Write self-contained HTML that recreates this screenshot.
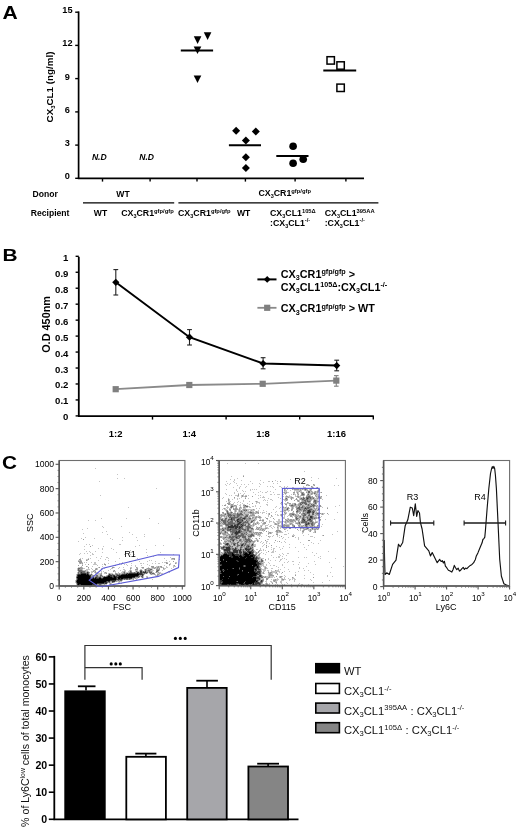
<!DOCTYPE html>
<html><head><meta charset="utf-8"><style>
html,body{margin:0;padding:0;background:#fff;overflow:hidden;}
svg{display:block;font-family:"Liberation Sans", sans-serif;will-change:transform;}
</style></head><body>
<svg width="520" height="832" viewBox="0 0 520 832">
<rect width="520" height="832" fill="#fff"/>
<text transform="translate(2.6,18.5) scale(1.2,1)" font-size="17.6" font-weight="bold">A</text>
<line x1="78.6" y1="11.4" x2="78.6" y2="179" stroke="#000" stroke-width="1.7" />
<line x1="75.2" y1="12.2" x2="78.6" y2="12.2" stroke="#000" stroke-width="1.4" />
<text x="67.4" y="13.2" font-size="9.2" font-weight="bold" font-style="normal" text-anchor="middle" fill="#000" >15</text>
<line x1="75.2" y1="45.4" x2="78.6" y2="45.4" stroke="#000" stroke-width="1.4" />
<text x="67.4" y="46.4" font-size="9.2" font-weight="bold" font-style="normal" text-anchor="middle" fill="#000" >12</text>
<line x1="75.2" y1="78.6" x2="78.6" y2="78.6" stroke="#000" stroke-width="1.4" />
<text x="67.4" y="79.6" font-size="9.2" font-weight="bold" font-style="normal" text-anchor="middle" fill="#000" >9</text>
<line x1="75.2" y1="111.9" x2="78.6" y2="111.9" stroke="#000" stroke-width="1.4" />
<text x="67.4" y="112.9" font-size="9.2" font-weight="bold" font-style="normal" text-anchor="middle" fill="#000" >6</text>
<line x1="75.2" y1="145.1" x2="78.6" y2="145.1" stroke="#000" stroke-width="1.4" />
<text x="67.4" y="146.1" font-size="9.2" font-weight="bold" font-style="normal" text-anchor="middle" fill="#000" >3</text>
<line x1="75.2" y1="178.3" x2="78.6" y2="178.3" stroke="#000" stroke-width="1.4" />
<text x="67.4" y="179.3" font-size="9.2" font-weight="bold" font-style="normal" text-anchor="middle" fill="#000" >0</text>
<line x1="77.8" y1="178.3" x2="364" y2="178.3" stroke="#000" stroke-width="1.7" />
<line x1="102.5" y1="178" x2="102.5" y2="181.6" stroke="#000" stroke-width="1.4" />
<line x1="150.1" y1="178" x2="150.1" y2="181.6" stroke="#000" stroke-width="1.4" />
<line x1="197.0" y1="178" x2="197.0" y2="181.6" stroke="#000" stroke-width="1.4" />
<line x1="245.4" y1="178" x2="245.4" y2="181.6" stroke="#000" stroke-width="1.4" />
<line x1="295.1" y1="178" x2="295.1" y2="181.6" stroke="#000" stroke-width="1.4" />
<line x1="345.9" y1="178" x2="345.9" y2="181.6" stroke="#000" stroke-width="1.4" />
<text transform="translate(53.4,87) rotate(-90)" font-size="9.8" font-weight="bold" text-anchor="middle">CX<tspan font-size="6" dy="2">3</tspan><tspan dy="-2">CL1 (ng/ml)</tspan></text>
<text x="99.3" y="160.1" font-size="8.6" font-weight="bold" font-style="italic" text-anchor="middle" fill="#000" >N.D</text>
<text x="146.6" y="160.1" font-size="8.6" font-weight="bold" font-style="italic" text-anchor="middle" fill="#000" >N.D</text>
<path d="M203.79999999999998 32.3 L211.4 32.3 L207.6 39.9 Z" fill="#000"/>
<path d="M193.79999999999998 36.3 L201.4 36.3 L197.6 43.9 Z" fill="#000"/>
<path d="M193.7 46.4 L201.3 46.4 L197.5 54.0 Z" fill="#000"/>
<path d="M193.7 75.5 L201.3 75.5 L197.5 83.1 Z" fill="#000"/>
<line x1="180.8" y1="50.5" x2="213.1" y2="50.5" stroke="#000" stroke-width="2" />
<path d="M236.1 126.80000000000001 L240.1 130.8 L236.1 134.8 L232.1 130.8 Z" fill="#000"/>
<path d="M255.8 127.5 L259.8 131.5 L255.8 135.5 L251.8 131.5 Z" fill="#000"/>
<path d="M245.9 136.5 L249.9 140.5 L245.9 144.5 L241.9 140.5 Z" fill="#000"/>
<path d="M245.9 153.3 L249.9 157.3 L245.9 161.3 L241.9 157.3 Z" fill="#000"/>
<path d="M245.9 163.9 L249.9 167.9 L245.9 171.9 L241.9 167.9 Z" fill="#000"/>
<line x1="228.9" y1="145.3" x2="261.0" y2="145.3" stroke="#000" stroke-width="2" />
<circle cx="293.1" cy="146.3" r="3.8" fill="#000"/>
<circle cx="303.2" cy="159.3" r="3.8" fill="#000"/>
<circle cx="293.1" cy="163.2" r="3.8" fill="#000"/>
<line x1="276.3" y1="156.0" x2="308.5" y2="156.0" stroke="#000" stroke-width="2" />
<rect x="327.0" y="56.7" width="7.4" height="7.4" fill="none" stroke="#000" stroke-width="1.5"/>
<rect x="336.9" y="61.8" width="7.4" height="7.4" fill="none" stroke="#000" stroke-width="1.5"/>
<rect x="336.9" y="84.1" width="7.4" height="7.4" fill="none" stroke="#000" stroke-width="1.5"/>
<line x1="323.3" y1="70.6" x2="356.2" y2="70.6" stroke="#000" stroke-width="2" />
<text x="32.6" y="197.2" font-size="8.6" font-weight="bold" font-style="normal" text-anchor="start" fill="#000" >Donor</text>
<text x="30.8" y="216.3" font-size="8.6" font-weight="bold" font-style="normal" text-anchor="start" fill="#000" >Recipient</text>
<text x="123.0" y="197.2" font-size="8.6" font-weight="bold" font-style="normal" text-anchor="middle" fill="#000" >WT</text>
<line x1="83" y1="202.8" x2="174.2" y2="202.8" stroke="#000" stroke-width="1.3" />
<line x1="178.4" y1="202.8" x2="378.4" y2="202.8" stroke="#000" stroke-width="1.3" />
<text x="258.4" y="196.4" font-size="8.8" font-weight="bold" font-style="normal" text-anchor="start" fill="#000" >CX<tspan font-size="5.46" dy="2">3</tspan><tspan dy="-2">CR1</tspan><tspan font-size="5.81" dy="-3.5">gfp/gfp</tspan></text>
<text x="93.8" y="216.3" font-size="8.6" font-weight="bold" font-style="normal" text-anchor="start" fill="#000" >WT</text>
<text x="121.2" y="216.3" font-size="8.8" font-weight="bold" font-style="normal" text-anchor="start" fill="#000" >CX<tspan font-size="5.46" dy="2">3</tspan><tspan dy="-2">CR1</tspan><tspan font-size="5.81" dy="-3.5">gfp/gfp</tspan></text>
<text x="178.0" y="216.3" font-size="8.8" font-weight="bold" font-style="normal" text-anchor="start" fill="#000" >CX<tspan font-size="5.46" dy="2">3</tspan><tspan dy="-2">CR1</tspan><tspan font-size="5.81" dy="-3.5">gfp/gfp</tspan></text>
<text x="237.0" y="216.3" font-size="8.6" font-weight="bold" font-style="normal" text-anchor="start" fill="#000" >WT</text>
<text x="270.0" y="216.3" font-size="8.8" font-weight="bold" font-style="normal" text-anchor="start" fill="#000" >CX<tspan font-size="5.46" dy="2">3</tspan><tspan dy="-2">CL1</tspan><tspan font-size="5.81" dy="-3.5">105Δ</tspan></text>
<text x="270.0" y="225.6" font-size="8.8" font-weight="bold" font-style="normal" text-anchor="start" fill="#000" >:CX<tspan font-size="5.46" dy="2">3</tspan><tspan dy="-2">CL1</tspan><tspan font-size="5.81" dy="-3.5">-/-</tspan></text>
<text x="324.7" y="216.3" font-size="8.8" font-weight="bold" font-style="normal" text-anchor="start" fill="#000" >CX<tspan font-size="5.46" dy="2">3</tspan><tspan dy="-2">CL1</tspan><tspan font-size="5.81" dy="-3.5">395AA</tspan></text>
<text x="324.7" y="225.6" font-size="8.8" font-weight="bold" font-style="normal" text-anchor="start" fill="#000" >:CX<tspan font-size="5.46" dy="2">3</tspan><tspan dy="-2">CL1</tspan><tspan font-size="5.81" dy="-3.5">-/-</tspan></text>
<text transform="translate(2.6,261.3) scale(1.2,1)" font-size="17.4" font-weight="bold">B</text>
<line x1="78.8" y1="256.8" x2="78.8" y2="416.8" stroke="#000" stroke-width="1.8" />
<line x1="75.6" y1="415.9" x2="78.8" y2="415.9" stroke="#000" stroke-width="1.4" />
<text x="68.4" y="420.4" font-size="9.6" font-weight="bold" font-style="normal" text-anchor="end" fill="#000" >0</text>
<line x1="75.6" y1="399.94" x2="78.8" y2="399.94" stroke="#000" stroke-width="1.4" />
<text x="68.4" y="404.44" font-size="9.6" font-weight="bold" font-style="normal" text-anchor="end" fill="#000" >0.1</text>
<line x1="75.6" y1="383.97999999999996" x2="78.8" y2="383.97999999999996" stroke="#000" stroke-width="1.4" />
<text x="68.4" y="388.47999999999996" font-size="9.6" font-weight="bold" font-style="normal" text-anchor="end" fill="#000" >0.2</text>
<line x1="75.6" y1="368.02" x2="78.8" y2="368.02" stroke="#000" stroke-width="1.4" />
<text x="68.4" y="372.52" font-size="9.6" font-weight="bold" font-style="normal" text-anchor="end" fill="#000" >0.3</text>
<line x1="75.6" y1="352.05999999999995" x2="78.8" y2="352.05999999999995" stroke="#000" stroke-width="1.4" />
<text x="68.4" y="356.55999999999995" font-size="9.6" font-weight="bold" font-style="normal" text-anchor="end" fill="#000" >0.4</text>
<line x1="75.6" y1="336.09999999999997" x2="78.8" y2="336.09999999999997" stroke="#000" stroke-width="1.4" />
<text x="68.4" y="340.59999999999997" font-size="9.6" font-weight="bold" font-style="normal" text-anchor="end" fill="#000" >0.5</text>
<line x1="75.6" y1="320.14" x2="78.8" y2="320.14" stroke="#000" stroke-width="1.4" />
<text x="68.4" y="324.64" font-size="9.6" font-weight="bold" font-style="normal" text-anchor="end" fill="#000" >0.6</text>
<line x1="75.6" y1="304.17999999999995" x2="78.8" y2="304.17999999999995" stroke="#000" stroke-width="1.4" />
<text x="68.4" y="308.67999999999995" font-size="9.6" font-weight="bold" font-style="normal" text-anchor="end" fill="#000" >0.7</text>
<line x1="75.6" y1="288.21999999999997" x2="78.8" y2="288.21999999999997" stroke="#000" stroke-width="1.4" />
<text x="68.4" y="292.71999999999997" font-size="9.6" font-weight="bold" font-style="normal" text-anchor="end" fill="#000" >0.8</text>
<line x1="75.6" y1="272.26" x2="78.8" y2="272.26" stroke="#000" stroke-width="1.4" />
<text x="68.4" y="276.76" font-size="9.6" font-weight="bold" font-style="normal" text-anchor="end" fill="#000" >0.9</text>
<line x1="75.6" y1="256.29999999999995" x2="78.8" y2="256.29999999999995" stroke="#000" stroke-width="1.4" />
<text x="68.4" y="260.79999999999995" font-size="9.6" font-weight="bold" font-style="normal" text-anchor="end" fill="#000" >1</text>
<line x1="78" y1="416.1" x2="373.8" y2="416.1" stroke="#000" stroke-width="1.8" />
<line x1="152.5" y1="416" x2="152.5" y2="419.6" stroke="#000" stroke-width="1.4" />
<line x1="226.1" y1="416" x2="226.1" y2="419.6" stroke="#000" stroke-width="1.4" />
<line x1="299.7" y1="416" x2="299.7" y2="419.6" stroke="#000" stroke-width="1.4" />
<line x1="373.3" y1="416" x2="373.3" y2="419.6" stroke="#000" stroke-width="1.4" />
<text x="115.7" y="437.2" font-size="9.5" font-weight="bold" font-style="normal" text-anchor="middle" fill="#000" >1:2</text>
<text x="189.3" y="437.2" font-size="9.5" font-weight="bold" font-style="normal" text-anchor="middle" fill="#000" >1:4</text>
<text x="263.0" y="437.2" font-size="9.5" font-weight="bold" font-style="normal" text-anchor="middle" fill="#000" >1:8</text>
<text x="336.5" y="437.2" font-size="9.5" font-weight="bold" font-style="normal" text-anchor="middle" fill="#000" >1:16</text>
<text transform="translate(50.2,324.4) rotate(-90)" font-size="10.9" font-weight="bold" text-anchor="middle">O.D 450nm</text>
<polyline points="115.7,389.2 189.3,385.0 262.7,383.8 336.3,380.6" fill="none" stroke="#8a8a8a" stroke-width="1.8"/>
<line x1="336.3" y1="375.6" x2="336.3" y2="386.2" stroke="#8a8a8a" stroke-width="1.2" />
<line x1="334" y1="375.6" x2="338.6" y2="375.6" stroke="#8a8a8a" stroke-width="1.2" />
<line x1="334" y1="386.2" x2="338.6" y2="386.2" stroke="#8a8a8a" stroke-width="1.2" />
<rect x="112.60000000000001" y="386.09999999999997" width="6.2" height="6.2" fill="#808080"/>
<rect x="186.20000000000002" y="381.9" width="6.2" height="6.2" fill="#808080"/>
<rect x="259.59999999999997" y="380.7" width="6.2" height="6.2" fill="#808080"/>
<rect x="333.2" y="377.5" width="6.2" height="6.2" fill="#808080"/>
<polyline points="115.8,282.3 189.5,337.2 263.1,363.5 336.7,365.6" fill="none" stroke="#000" stroke-width="2"/>
<line x1="115.8" y1="269.6" x2="115.8" y2="295.0" stroke="#222" stroke-width="1.1" />
<line x1="113.39999999999999" y1="269.6" x2="118.2" y2="269.6" stroke="#222" stroke-width="1.1" />
<line x1="113.39999999999999" y1="295.0" x2="118.2" y2="295.0" stroke="#222" stroke-width="1.1" />
<path d="M115.8 278.7 L119.39999999999999 282.3 L115.8 285.90000000000003 L112.2 282.3 Z" fill="#000"/>
<line x1="189.5" y1="329.6" x2="189.5" y2="345.0" stroke="#222" stroke-width="1.1" />
<line x1="187.1" y1="329.6" x2="191.9" y2="329.6" stroke="#222" stroke-width="1.1" />
<line x1="187.1" y1="345.0" x2="191.9" y2="345.0" stroke="#222" stroke-width="1.1" />
<path d="M189.5 333.59999999999997 L193.1 337.2 L189.5 340.8 L185.9 337.2 Z" fill="#000"/>
<line x1="263.1" y1="357.7" x2="263.1" y2="368.8" stroke="#222" stroke-width="1.1" />
<line x1="260.70000000000005" y1="357.7" x2="265.5" y2="357.7" stroke="#222" stroke-width="1.1" />
<line x1="260.70000000000005" y1="368.8" x2="265.5" y2="368.8" stroke="#222" stroke-width="1.1" />
<path d="M263.1 359.9 L266.70000000000005 363.5 L263.1 367.1 L259.5 363.5 Z" fill="#000"/>
<line x1="336.7" y1="360.2" x2="336.7" y2="370.8" stroke="#222" stroke-width="1.1" />
<line x1="334.3" y1="360.2" x2="339.09999999999997" y2="360.2" stroke="#222" stroke-width="1.1" />
<line x1="334.3" y1="370.8" x2="339.09999999999997" y2="370.8" stroke="#222" stroke-width="1.1" />
<path d="M336.7 362.0 L340.3 365.6 L336.7 369.20000000000005 L333.09999999999997 365.6 Z" fill="#000"/>
<line x1="257.4" y1="279.4" x2="276.5" y2="279.4" stroke="#000" stroke-width="2" />
<path d="M267.2 276.0 L270.59999999999997 279.4 L267.2 282.79999999999995 L263.8 279.4 Z" fill="#000"/>
<line x1="257.4" y1="307.8" x2="276.5" y2="307.8" stroke="#8a8a8a" stroke-width="1.8" />
<rect x="264.09999999999997" y="304.7" width="6.2" height="6.2" fill="#808080"/>
<text x="280.8" y="278.0" font-size="10.8" font-weight="bold">CX<tspan font-size="7.20" dy="2.2">3</tspan><tspan dy="-2.2">CR1</tspan><tspan font-size="7.20" dy="-3.8">gfp/gfp</tspan><tspan dy="3.8"> &gt;</tspan></text>
<text x="280.8" y="290.5" font-size="10.8" font-weight="bold">CX<tspan font-size="7.20" dy="2.2">3</tspan><tspan dy="-2.2">CL1</tspan><tspan font-size="7.20" dy="-3.8">105Δ</tspan><tspan dy="3.8">:CX</tspan><tspan font-size="7.20" dy="2.2">3</tspan><tspan dy="-2.2">CL1</tspan><tspan font-size="7.20" dy="-3.8">-/-</tspan></text>
<text x="280.8" y="312.3" font-size="10.8" font-weight="bold">CX<tspan font-size="7.20" dy="2.2">3</tspan><tspan dy="-2.2">CR1</tspan><tspan font-size="7.20" dy="-3.8">gfp/gfp</tspan><tspan dy="3.8"> &gt; WT</tspan></text>
<text transform="translate(2.0,468.9) scale(1.14,1)" font-size="18.2" font-weight="bold">C</text>
<path d="M137 573h1v1h-1zM81 574h5v1h-5zM87 574h1v1h-1zM126 574h1v1h-1zM128 574h11v1h-11zM78 575h11v1h-11zM121 575h17v1h-17zM78 576h12v1h-12zM108 576h2v1h-2zM114 576h1v1h-1zM119 576h16v1h-16zM77 577h13v1h-13zM104 577h8v1h-8zM114 577h2v1h-2zM118 577h14v1h-14zM78 578h13v1h-13zM93 578h1v1h-1zM95 578h1v1h-1zM99 578h2v1h-2zM103 578h13v1h-13zM118 578h2v1h-2zM121 578h2v1h-2zM78 579h38v1h-38zM77 580h33v1h-33zM77 581h29v1h-29zM77 582h27v1h-27zM78 583h19v1h-19zM78 584h1v1h-1zM81 584h11v1h-11z" fill="#000"/>
<path d="M140 571h2v1h-2zM145 571h1v1h-1zM81 572h1v1h-1zM87 572h1v1h-1zM137 572h2v1h-2zM140 572h2v1h-2zM143 572h3v1h-3zM81 573h5v1h-5zM87 573h1v1h-1zM127 573h1v1h-1zM129 573h8v1h-8zM138 573h4v1h-4zM78 574h3v1h-3zM86 574h1v1h-1zM88 574h1v1h-1zM109 574h1v1h-1zM122 574h4v1h-4zM127 574h1v1h-1zM139 574h4v1h-4zM77 575h1v1h-1zM89 575h2v1h-2zM108 575h4v1h-4zM113 575h2v1h-2zM117 575h4v1h-4zM138 575h1v1h-1zM142 575h1v1h-1zM77 576h1v1h-1zM90 576h1v1h-1zM107 576h1v1h-1zM110 576h2v1h-2zM113 576h1v1h-1zM115 576h2v1h-2zM118 576h1v1h-1zM135 576h3v1h-3zM90 577h1v1h-1zM92 577h2v1h-2zM95 577h2v1h-2zM99 577h2v1h-2zM103 577h1v1h-1zM112 577h2v1h-2zM116 577h2v1h-2zM132 577h3v1h-3zM77 578h1v1h-1zM91 578h2v1h-2zM94 578h1v1h-1zM96 578h3v1h-3zM101 578h2v1h-2zM116 578h1v1h-1zM120 578h1v1h-1zM123 578h5v1h-5zM129 578h3v1h-3zM77 579h1v1h-1zM116 579h6v1h-6zM110 580h6v1h-6zM76 581h1v1h-1zM106 581h1v1h-1zM108 581h2v1h-2zM112 581h3v1h-3zM104 582h3v1h-3zM77 583h1v1h-1zM97 583h7v1h-7zM105 583h2v1h-2zM77 584h1v1h-1zM79 584h2v1h-2zM92 584h5v1h-5zM83 585h9v1h-9z" fill="#333"/>
<path d="M78 568h2v1h-2zM78 569h1v1h-1zM145 569h1v1h-1zM150 569h2v1h-2zM78 570h4v1h-4zM140 570h2v1h-2zM145 570h1v1h-1zM148 570h2v1h-2zM157 570h2v1h-2zM79 571h6v1h-6zM130 571h1v1h-1zM136 571h1v1h-1zM143 571h1v1h-1zM149 571h1v1h-1zM156 571h2v1h-2zM78 572h1v1h-1zM80 572h1v1h-1zM82 572h3v1h-3zM88 572h1v1h-1zM124 572h1v1h-1zM130 572h2v1h-2zM134 572h1v1h-1zM142 572h1v1h-1zM146 572h2v1h-2zM149 572h3v1h-3zM78 573h1v1h-1zM80 573h1v1h-1zM86 573h1v1h-1zM88 573h1v1h-1zM124 573h1v1h-1zM126 573h1v1h-1zM128 573h1v1h-1zM142 573h1v1h-1zM144 573h1v1h-1zM146 573h1v1h-1zM150 573h1v1h-1zM152 573h2v1h-2zM77 574h1v1h-1zM91 574h1v1h-1zM110 574h1v1h-1zM112 574h1v1h-1zM116 574h2v1h-2zM119 574h1v1h-1zM121 574h1v1h-1zM143 574h1v1h-1zM96 575h2v1h-2zM100 575h2v1h-2zM112 575h1v1h-1zM116 575h1v1h-1zM93 576h1v1h-1zM96 576h2v1h-2zM100 576h1v1h-1zM102 576h1v1h-1zM104 576h1v1h-1zM106 576h1v1h-1zM112 576h1v1h-1zM117 576h1v1h-1zM138 576h2v1h-2zM141 576h2v1h-2zM76 577h1v1h-1zM97 577h2v1h-2zM138 577h1v1h-1zM142 577h1v1h-1zM117 578h1v1h-1zM128 578h1v1h-1zM122 579h1v1h-1zM124 579h1v1h-1zM126 579h2v1h-2zM129 579h1v1h-1zM76 580h1v1h-1zM118 580h1v1h-1zM120 580h2v1h-2zM107 581h1v1h-1zM76 582h1v1h-1zM107 582h1v1h-1zM109 582h1v1h-1zM112 582h1v1h-1zM104 583h1v1h-1zM99 584h2v1h-2zM78 585h1v1h-1zM81 585h1v1h-1zM94 585h2v1h-2z" fill="#666"/>
<path d="M83 539h1v1h-1zM90 546h1v1h-1zM172 558h3v1h-3zM79 559h2v1h-2zM88 559h1v1h-1zM174 559h1v1h-1zM80 560h1v1h-1zM86 560h1v1h-1zM78 561h4v1h-4zM173 561h1v1h-1zM79 562h3v1h-3zM166 562h1v1h-1zM80 563h1v1h-1zM82 563h1v1h-1zM166 563h2v1h-2zM175 563h1v1h-1zM88 564h1v1h-1zM104 564h2v1h-2zM169 564h1v1h-1zM78 565h1v1h-1zM82 565h1v1h-1zM115 565h1v1h-1zM174 565h1v1h-1zM86 566h1v1h-1zM151 566h3v1h-3zM158 566h1v1h-1zM160 566h2v1h-2zM80 567h2v1h-2zM88 567h1v1h-1zM99 567h1v1h-1zM112 567h2v1h-2zM136 567h1v1h-1zM142 567h2v1h-2zM152 567h2v1h-2zM155 567h1v1h-1zM157 567h2v1h-2zM161 567h1v1h-1zM80 568h3v1h-3zM96 568h1v1h-1zM130 568h1v1h-1zM137 568h1v1h-1zM147 568h3v1h-3zM154 568h1v1h-1zM157 568h1v1h-1zM159 568h1v1h-1zM163 568h1v1h-1zM79 569h3v1h-3zM95 569h2v1h-2zM101 569h1v1h-1zM135 569h3v1h-3zM146 569h1v1h-1zM148 569h2v1h-2zM156 569h4v1h-4zM82 570h1v1h-1zM85 570h1v1h-1zM94 570h1v1h-1zM114 570h1v1h-1zM130 570h1v1h-1zM146 570h2v1h-2zM150 570h1v1h-1zM156 570h1v1h-1zM78 571h1v1h-1zM85 571h1v1h-1zM87 571h1v1h-1zM93 571h1v1h-1zM95 571h1v1h-1zM113 571h1v1h-1zM124 571h1v1h-1zM131 571h1v1h-1zM137 571h1v1h-1zM142 571h1v1h-1zM144 571h1v1h-1zM146 571h3v1h-3zM150 571h2v1h-2zM79 572h1v1h-1zM85 572h2v1h-2zM89 572h1v1h-1zM95 572h1v1h-1zM105 572h1v1h-1zM123 572h1v1h-1zM129 572h1v1h-1zM132 572h2v1h-2zM135 572h2v1h-2zM139 572h1v1h-1zM156 572h1v1h-1zM158 572h1v1h-1zM79 573h1v1h-1zM101 573h1v1h-1zM106 573h1v1h-1zM109 573h1v1h-1zM115 573h2v1h-2zM119 573h1v1h-1zM122 573h2v1h-2zM125 573h1v1h-1zM143 573h1v1h-1zM145 573h1v1h-1zM151 573h1v1h-1zM154 573h1v1h-1zM159 573h1v1h-1zM89 574h2v1h-2zM100 574h2v1h-2zM108 574h1v1h-1zM111 574h1v1h-1zM113 574h1v1h-1zM115 574h1v1h-1zM118 574h1v1h-1zM120 574h1v1h-1zM151 574h1v1h-1zM154 574h1v1h-1zM157 574h2v1h-2zM91 575h3v1h-3zM107 575h1v1h-1zM115 575h1v1h-1zM139 575h3v1h-3zM143 575h1v1h-1zM157 575h1v1h-1zM76 576h1v1h-1zM91 576h2v1h-2zM95 576h1v1h-1zM98 576h2v1h-2zM101 576h1v1h-1zM103 576h1v1h-1zM105 576h1v1h-1zM91 577h1v1h-1zM94 577h1v1h-1zM101 577h2v1h-2zM135 577h3v1h-3zM147 577h1v1h-1zM76 578h1v1h-1zM132 578h2v1h-2zM135 578h1v1h-1zM76 579h1v1h-1zM123 579h1v1h-1zM125 579h1v1h-1zM128 579h1v1h-1zM130 579h1v1h-1zM133 579h1v1h-1zM116 580h2v1h-2zM119 580h1v1h-1zM110 581h2v1h-2zM115 581h2v1h-2zM119 581h1v1h-1zM108 582h1v1h-1zM113 582h1v1h-1zM76 583h1v1h-1zM110 583h1v1h-1zM118 583h1v1h-1zM97 584h2v1h-2zM101 584h1v1h-1zM104 584h1v1h-1zM110 584h1v1h-1zM79 585h2v1h-2zM82 585h1v1h-1zM92 585h2v1h-2zM100 585h1v1h-1z" fill="#999"/>
<path d="M95 468h1v1h-1zM117 474h1v1h-1zM117 478h1v1h-1zM124 478h1v1h-1zM99 481h1v1h-1zM156 488h1v1h-1zM100 495h1v1h-1zM128 507h1v1h-1zM101 518h1v1h-1zM126 518h1v1h-1zM149 518h1v1h-1zM88 520h1v1h-1zM95 520h1v1h-1zM158 523h1v1h-1zM102 526h1v1h-1zM121 526h1v1h-1zM103 527h1v1h-1zM87 528h1v1h-1zM82 529h1v1h-1zM106 531h1v1h-1zM102 532h1v1h-1zM129 532h1v1h-1zM83 533h1v1h-1zM107 534h1v1h-1zM132 534h1v1h-1zM144 534h1v1h-1zM144 536h1v1h-1zM85 537h1v1h-1zM122 537h1v1h-1zM136 537h1v1h-1zM81 538h1v1h-1zM94 538h1v1h-1zM110 538h1v1h-1zM179 538h1v1h-1zM112 539h1v1h-1zM122 540h1v1h-1zM137 540h1v1h-1zM78 541h1v1h-1zM86 544h1v1h-1zM89 544h1v1h-1zM119 544h2v1h-2zM92 545h1v1h-1zM139 545h1v1h-1zM155 545h1v1h-1zM163 545h1v1h-1zM84 546h1v1h-1zM103 546h1v1h-1zM135 546h1v1h-1zM98 548h1v1h-1zM102 548h1v1h-1zM111 548h1v1h-1zM84 549h1v1h-1zM102 549h1v1h-1zM113 549h1v1h-1zM146 549h1v1h-1zM130 550h1v1h-1zM86 551h1v1h-1zM89 551h1v1h-1zM95 551h1v1h-1zM90 552h1v1h-1zM102 552h1v1h-1zM116 552h1v1h-1zM146 552h1v1h-1zM160 552h1v1h-1zM80 553h1v1h-1zM84 553h1v1h-1zM87 553h1v1h-1zM92 553h1v1h-1zM125 553h1v1h-1zM79 554h1v1h-1zM92 554h2v1h-2zM124 554h1v1h-1zM130 554h1v1h-1zM134 554h1v1h-1zM173 554h1v1h-1zM90 555h1v1h-1zM147 555h1v1h-1zM101 556h1v1h-1zM153 556h1v1h-1zM96 557h1v1h-1zM106 557h2v1h-2zM170 557h1v1h-1zM80 558h1v1h-1zM82 558h1v1h-1zM88 558h1v1h-1zM90 558h1v1h-1zM100 558h1v1h-1zM108 558h1v1h-1zM119 558h1v1h-1zM137 558h1v1h-1zM164 558h1v1h-1zM171 558h1v1h-1zM86 559h2v1h-2zM105 559h1v1h-1zM171 559h3v1h-3zM179 559h1v1h-1zM78 560h2v1h-2zM81 560h1v1h-1zM87 560h1v1h-1zM98 560h1v1h-1zM108 560h1v1h-1zM135 560h1v1h-1zM149 560h1v1h-1zM151 560h1v1h-1zM166 560h1v1h-1zM115 561h1v1h-1zM129 561h2v1h-2zM139 561h1v1h-1zM147 561h1v1h-1zM155 561h1v1h-1zM169 561h1v1h-1zM82 562h1v1h-1zM84 562h1v1h-1zM86 562h1v1h-1zM91 562h1v1h-1zM94 562h2v1h-2zM122 562h1v1h-1zM162 562h1v1h-1zM164 562h2v1h-2zM167 562h1v1h-1zM175 562h2v1h-2zM79 563h1v1h-1zM81 563h1v1h-1zM94 563h2v1h-2zM104 563h1v1h-1zM108 563h1v1h-1zM119 563h1v1h-1zM131 563h1v1h-1zM140 563h2v1h-2zM143 563h1v1h-1zM152 563h1v1h-1zM155 563h1v1h-1zM158 563h2v1h-2zM170 563h1v1h-1zM176 563h1v1h-1zM82 564h1v1h-1zM85 564h1v1h-1zM93 564h4v1h-4zM102 564h1v1h-1zM121 564h1v1h-1zM124 564h1v1h-1zM126 564h1v1h-1zM147 564h1v1h-1zM170 564h1v1h-1zM97 565h1v1h-1zM105 565h1v1h-1zM127 565h1v1h-1zM131 565h1v1h-1zM135 565h1v1h-1zM141 565h1v1h-1zM149 565h1v1h-1zM164 565h1v1h-1zM169 565h1v1h-1zM173 565h1v1h-1zM81 566h1v1h-1zM87 566h1v1h-1zM92 566h1v1h-1zM102 566h1v1h-1zM135 566h1v1h-1zM156 566h2v1h-2zM159 566h1v1h-1zM166 566h1v1h-1zM173 566h3v1h-3zM78 567h2v1h-2zM82 567h1v1h-1zM98 567h1v1h-1zM106 567h1v1h-1zM114 567h1v1h-1zM119 567h1v1h-1zM123 567h1v1h-1zM130 567h2v1h-2zM137 567h1v1h-1zM141 567h1v1h-1zM148 567h1v1h-1zM151 567h1v1h-1zM154 567h1v1h-1zM156 567h1v1h-1zM159 567h2v1h-2zM162 567h2v1h-2zM166 567h2v1h-2zM173 567h1v1h-1zM77 568h1v1h-1zM83 568h2v1h-2zM88 568h1v1h-1zM91 568h1v1h-1zM95 568h1v1h-1zM97 568h1v1h-1zM101 568h1v1h-1zM104 568h1v1h-1zM111 568h2v1h-2zM118 568h1v1h-1zM131 568h1v1h-1zM136 568h1v1h-1zM142 568h2v1h-2zM146 568h1v1h-1zM150 568h4v1h-4zM155 568h2v1h-2zM158 568h1v1h-1zM164 568h2v1h-2zM171 568h1v1h-1zM77 569h1v1h-1zM82 569h1v1h-1zM86 569h4v1h-4zM92 569h1v1h-1zM97 569h1v1h-1zM110 569h1v1h-1zM123 569h2v1h-2zM130 569h1v1h-1zM140 569h2v1h-2zM144 569h1v1h-1zM147 569h1v1h-1zM152 569h1v1h-1zM163 569h2v1h-2zM77 570h1v1h-1zM83 570h2v1h-2zM86 570h2v1h-2zM93 570h1v1h-1zM95 570h1v1h-1zM108 570h1v1h-1zM113 570h1v1h-1zM120 570h1v1h-1zM124 570h2v1h-2zM129 570h1v1h-1zM131 570h1v1h-1zM135 570h3v1h-3zM139 570h1v1h-1zM142 570h1v1h-1zM144 570h1v1h-1zM151 570h3v1h-3zM159 570h1v1h-1zM162 570h1v1h-1zM86 571h1v1h-1zM88 571h1v1h-1zM91 571h2v1h-2zM94 571h1v1h-1zM101 571h1v1h-1zM103 571h1v1h-1zM114 571h2v1h-2zM122 571h2v1h-2zM125 571h1v1h-1zM128 571h2v1h-2zM135 571h1v1h-1zM138 571h2v1h-2zM152 571h1v1h-1zM158 571h1v1h-1zM168 571h1v1h-1zM77 572h1v1h-1zM91 572h2v1h-2zM94 572h1v1h-1zM96 572h2v1h-2zM101 572h1v1h-1zM104 572h1v1h-1zM106 572h1v1h-1zM115 572h1v1h-1zM118 572h1v1h-1zM121 572h2v1h-2zM125 572h4v1h-4zM148 572h1v1h-1zM152 572h2v1h-2zM155 572h1v1h-1zM157 572h1v1h-1zM159 572h2v1h-2zM169 572h1v1h-1zM77 573h1v1h-1zM89 573h1v1h-1zM91 573h1v1h-1zM95 573h6v1h-6zM104 573h2v1h-2zM108 573h1v1h-1zM110 573h3v1h-3zM117 573h2v1h-2zM120 573h2v1h-2zM147 573h1v1h-1zM149 573h1v1h-1zM157 573h2v1h-2zM160 573h3v1h-3zM76 574h1v1h-1zM92 574h1v1h-1zM96 574h4v1h-4zM114 574h1v1h-1zM144 574h1v1h-1zM150 574h1v1h-1zM152 574h2v1h-2zM155 574h1v1h-1zM159 574h1v1h-1zM161 574h1v1h-1zM76 575h1v1h-1zM95 575h1v1h-1zM98 575h2v1h-2zM102 575h1v1h-1zM106 575h1v1h-1zM155 575h2v1h-2zM158 575h1v1h-1zM94 576h1v1h-1zM140 576h1v1h-1zM143 576h1v1h-1zM146 576h2v1h-2zM139 577h1v1h-1zM141 577h1v1h-1zM143 577h1v1h-1zM146 577h1v1h-1zM134 578h1v1h-1zM136 578h2v1h-2zM131 579h2v1h-2zM136 579h1v1h-1zM152 579h1v1h-1zM75 580h1v1h-1zM122 580h1v1h-1zM75 581h1v1h-1zM117 581h2v1h-2zM120 581h2v1h-2zM75 582h1v1h-1zM110 582h2v1h-2zM114 582h1v1h-1zM118 582h2v1h-2zM107 583h1v1h-1zM109 583h1v1h-1zM111 583h1v1h-1zM121 583h1v1h-1zM76 584h1v1h-1zM102 584h2v1h-2zM105 584h2v1h-2zM109 584h1v1h-1zM111 584h1v1h-1zM77 585h1v1h-1zM96 585h1v1h-1zM99 585h1v1h-1zM101 585h1v1h-1z" fill="#c4c4c4"/>
<rect x="59.2" y="460.5" width="125.7" height="125.5" fill="none" stroke="#6e6e6e" stroke-width="1.1"/>
<line x1="59.2" y1="460.5" x2="59.2" y2="586.0" stroke="#555" stroke-width="1.6" />
<line x1="59.2" y1="586.0" x2="184.9" y2="586.0" stroke="#555" stroke-width="1.6" />
<line x1="55.6" y1="586.0" x2="59.2" y2="586.0" stroke="#555" stroke-width="1.1" />
<text x="54.0" y="589.1" font-size="8.6" font-weight="normal" font-style="normal" text-anchor="end" fill="#000" >0</text>
<line x1="57.6" y1="579.915" x2="59.2" y2="579.915" stroke="#666" stroke-width="0.9" />
<line x1="57.6" y1="573.83" x2="59.2" y2="573.83" stroke="#666" stroke-width="0.9" />
<line x1="57.6" y1="567.745" x2="59.2" y2="567.745" stroke="#666" stroke-width="0.9" />
<line x1="55.6" y1="561.66" x2="59.2" y2="561.66" stroke="#555" stroke-width="1.1" />
<text x="54.0" y="564.76" font-size="8.6" font-weight="normal" font-style="normal" text-anchor="end" fill="#000" >200</text>
<line x1="57.6" y1="555.575" x2="59.2" y2="555.575" stroke="#666" stroke-width="0.9" />
<line x1="57.6" y1="549.49" x2="59.2" y2="549.49" stroke="#666" stroke-width="0.9" />
<line x1="57.6" y1="543.405" x2="59.2" y2="543.405" stroke="#666" stroke-width="0.9" />
<line x1="55.6" y1="537.32" x2="59.2" y2="537.32" stroke="#555" stroke-width="1.1" />
<text x="54.0" y="540.4200000000001" font-size="8.6" font-weight="normal" font-style="normal" text-anchor="end" fill="#000" >400</text>
<line x1="57.6" y1="531.235" x2="59.2" y2="531.235" stroke="#666" stroke-width="0.9" />
<line x1="57.6" y1="525.15" x2="59.2" y2="525.15" stroke="#666" stroke-width="0.9" />
<line x1="57.6" y1="519.065" x2="59.2" y2="519.065" stroke="#666" stroke-width="0.9" />
<line x1="55.6" y1="512.98" x2="59.2" y2="512.98" stroke="#555" stroke-width="1.1" />
<text x="54.0" y="516.08" font-size="8.6" font-weight="normal" font-style="normal" text-anchor="end" fill="#000" >600</text>
<line x1="57.6" y1="506.895" x2="59.2" y2="506.895" stroke="#666" stroke-width="0.9" />
<line x1="57.6" y1="500.81" x2="59.2" y2="500.81" stroke="#666" stroke-width="0.9" />
<line x1="57.6" y1="494.725" x2="59.2" y2="494.725" stroke="#666" stroke-width="0.9" />
<line x1="55.6" y1="488.64" x2="59.2" y2="488.64" stroke="#555" stroke-width="1.1" />
<text x="54.0" y="491.74" font-size="8.6" font-weight="normal" font-style="normal" text-anchor="end" fill="#000" >800</text>
<line x1="57.6" y1="482.555" x2="59.2" y2="482.555" stroke="#666" stroke-width="0.9" />
<line x1="57.6" y1="476.47" x2="59.2" y2="476.47" stroke="#666" stroke-width="0.9" />
<line x1="57.6" y1="470.385" x2="59.2" y2="470.385" stroke="#666" stroke-width="0.9" />
<line x1="55.6" y1="464.3" x2="59.2" y2="464.3" stroke="#555" stroke-width="1.1" />
<text x="54.0" y="467.40000000000003" font-size="8.6" font-weight="normal" font-style="normal" text-anchor="end" fill="#000" >1000</text>
<line x1="59.2" y1="586.0" x2="59.2" y2="589.4" stroke="#555" stroke-width="1.1" />
<text x="59.2" y="601.0" font-size="8.6" font-weight="normal" font-style="normal" text-anchor="middle" fill="#000" >0</text>
<line x1="65.355" y1="586.0" x2="65.355" y2="587.6" stroke="#666" stroke-width="0.9" />
<line x1="71.51" y1="586.0" x2="71.51" y2="587.6" stroke="#666" stroke-width="0.9" />
<line x1="77.665" y1="586.0" x2="77.665" y2="587.6" stroke="#666" stroke-width="0.9" />
<line x1="83.82000000000001" y1="586.0" x2="83.82000000000001" y2="589.4" stroke="#555" stroke-width="1.1" />
<text x="83.82000000000001" y="601.0" font-size="8.6" font-weight="normal" font-style="normal" text-anchor="middle" fill="#000" >200</text>
<line x1="89.97500000000001" y1="586.0" x2="89.97500000000001" y2="587.6" stroke="#666" stroke-width="0.9" />
<line x1="96.13000000000001" y1="586.0" x2="96.13000000000001" y2="587.6" stroke="#666" stroke-width="0.9" />
<line x1="102.28500000000001" y1="586.0" x2="102.28500000000001" y2="587.6" stroke="#666" stroke-width="0.9" />
<line x1="108.44000000000001" y1="586.0" x2="108.44000000000001" y2="589.4" stroke="#555" stroke-width="1.1" />
<text x="108.44000000000001" y="601.0" font-size="8.6" font-weight="normal" font-style="normal" text-anchor="middle" fill="#000" >400</text>
<line x1="114.59500000000001" y1="586.0" x2="114.59500000000001" y2="587.6" stroke="#666" stroke-width="0.9" />
<line x1="120.75" y1="586.0" x2="120.75" y2="587.6" stroke="#666" stroke-width="0.9" />
<line x1="126.90500000000002" y1="586.0" x2="126.90500000000002" y2="587.6" stroke="#666" stroke-width="0.9" />
<line x1="133.06" y1="586.0" x2="133.06" y2="589.4" stroke="#555" stroke-width="1.1" />
<text x="133.06" y="601.0" font-size="8.6" font-weight="normal" font-style="normal" text-anchor="middle" fill="#000" >600</text>
<line x1="139.21500000000003" y1="586.0" x2="139.21500000000003" y2="587.6" stroke="#666" stroke-width="0.9" />
<line x1="145.37" y1="586.0" x2="145.37" y2="587.6" stroke="#666" stroke-width="0.9" />
<line x1="151.52500000000003" y1="586.0" x2="151.52500000000003" y2="587.6" stroke="#666" stroke-width="0.9" />
<line x1="157.68" y1="586.0" x2="157.68" y2="589.4" stroke="#555" stroke-width="1.1" />
<text x="157.68" y="601.0" font-size="8.6" font-weight="normal" font-style="normal" text-anchor="middle" fill="#000" >800</text>
<line x1="163.83500000000004" y1="586.0" x2="163.83500000000004" y2="587.6" stroke="#666" stroke-width="0.9" />
<line x1="169.99" y1="586.0" x2="169.99" y2="587.6" stroke="#666" stroke-width="0.9" />
<line x1="176.145" y1="586.0" x2="176.145" y2="587.6" stroke="#666" stroke-width="0.9" />
<line x1="182.3" y1="586.0" x2="182.3" y2="589.4" stroke="#555" stroke-width="1.1" />
<text x="182.3" y="601.0" font-size="8.6" font-weight="normal" font-style="normal" text-anchor="middle" fill="#000" >1000</text>
<text x="122.1" y="609.6" font-size="9.0" font-weight="normal" font-style="normal" text-anchor="middle" fill="#000" >FSC</text>
<text transform="translate(32.8,522.7) rotate(-90)" font-size="9" text-anchor="middle" fill="#000">SSC</text>
<path d="M89.2 580.2 L103.0 568.3 L158.3 554.8 L179.4 555.0 L178.5 567.6 L158.3 576.4 L104 586.3 L98 586.3 Z" fill="none" stroke="#5b5bd6" stroke-width="1.1"/>
<text x="130.1" y="556.7" font-size="9.2" font-weight="normal" font-style="normal" text-anchor="middle" fill="#000" >R1</text>
<path d="M249 552h2v1h-2zM232 553h1v1h-1zM245 553h2v1h-2zM249 553h2v1h-2zM224 554h3v1h-3zM232 554h2v1h-2zM244 554h6v1h-6zM223 555h6v1h-6zM232 555h3v1h-3zM240 555h1v1h-1zM245 555h4v1h-4zM250 555h3v1h-3zM221 556h8v1h-8zM233 556h5v1h-5zM239 556h3v1h-3zM244 556h9v1h-9zM220 557h11v1h-11zM233 557h6v1h-6zM240 557h6v1h-6zM247 557h4v1h-4zM253 557h1v1h-1zM220 558h25v1h-25zM246 558h8v1h-8zM220 559h3v1h-3zM224 559h30v1h-30zM220 560h3v1h-3zM224 560h12v1h-12zM238 560h18v1h-18zM221 561h5v1h-5zM227 561h10v1h-10zM239 561h18v1h-18zM220 562h36v1h-36zM220 563h36v1h-36zM222 564h35v1h-35zM222 565h21v1h-21zM246 565h6v1h-6zM253 565h4v1h-4zM220 566h23v1h-23zM246 566h9v1h-9zM257 566h1v1h-1zM220 567h19v1h-19zM240 567h14v1h-14zM257 567h1v1h-1zM220 568h12v1h-12zM234 568h5v1h-5zM240 568h14v1h-14zM220 569h2v1h-2zM224 569h3v1h-3zM228 569h11v1h-11zM240 569h14v1h-14zM255 569h1v1h-1zM221 570h1v1h-1zM225 570h17v1h-17zM243 570h11v1h-11zM221 571h2v1h-2zM224 571h18v1h-18zM243 571h11v1h-11zM221 572h27v1h-27zM249 572h6v1h-6zM222 573h35v1h-35zM220 574h17v1h-17zM239 574h17v1h-17zM220 575h17v1h-17zM238 575h18v1h-18zM220 576h3v1h-3zM224 576h5v1h-5zM230 576h23v1h-23zM220 577h32v1h-32zM253 577h3v1h-3zM220 578h8v1h-8zM229 578h27v1h-27zM220 579h2v1h-2zM223 579h33v1h-33zM222 580h34v1h-34zM223 581h13v1h-13zM238 581h7v1h-7zM246 581h9v1h-9zM256 581h1v1h-1zM223 582h21v1h-21zM245 582h9v1h-9zM222 583h14v1h-14zM239 583h4v1h-4zM245 583h7v1h-7zM253 583h1v1h-1zM222 584h5v1h-5zM229 584h1v1h-1zM231 584h5v1h-5zM241 584h3v1h-3zM246 584h2v1h-2zM253 584h1v1h-1z" fill="#000"/>
<path d="M307 498h1v1h-1zM305 508h1v1h-1zM308 510h2v1h-2zM308 511h3v1h-3zM307 512h3v1h-3zM313 512h1v1h-1zM310 516h2v1h-2zM310 517h2v1h-2zM231 518h1v1h-1zM243 518h2v1h-2zM231 519h1v1h-1zM237 519h2v1h-2zM303 519h1v1h-1zM309 519h2v1h-2zM237 520h1v1h-1zM242 520h1v1h-1zM304 520h1v1h-1zM237 521h2v1h-2zM239 522h2v1h-2zM238 523h2v1h-2zM308 523h1v1h-1zM237 524h2v1h-2zM241 524h1v1h-1zM306 524h1v1h-1zM231 525h2v1h-2zM234 525h2v1h-2zM237 525h1v1h-1zM242 525h1v1h-1zM228 526h10v1h-10zM239 526h1v1h-1zM241 526h1v1h-1zM228 527h6v1h-6zM235 527h3v1h-3zM239 527h2v1h-2zM235 528h2v1h-2zM239 528h1v1h-1zM230 529h1v1h-1zM239 530h1v1h-1zM236 531h1v1h-1zM238 531h2v1h-2zM235 532h5v1h-5zM235 533h3v1h-3zM236 534h1v1h-1zM236 537h1v1h-1zM233 540h1v1h-1zM227 543h1v1h-1zM226 544h2v1h-2zM234 544h1v1h-1zM242 544h1v1h-1zM252 544h1v1h-1zM241 545h2v1h-2zM248 546h1v1h-1zM223 547h1v1h-1zM226 547h4v1h-4zM226 548h4v1h-4zM235 548h1v1h-1zM245 548h2v1h-2zM250 548h1v1h-1zM224 549h6v1h-6zM234 549h2v1h-2zM240 549h1v1h-1zM245 549h5v1h-5zM224 550h6v1h-6zM233 550h5v1h-5zM239 550h2v1h-2zM246 550h1v1h-1zM248 550h1v1h-1zM252 550h1v1h-1zM227 551h1v1h-1zM229 551h1v1h-1zM233 551h5v1h-5zM239 551h2v1h-2zM243 551h1v1h-1zM247 551h5v1h-5zM225 552h1v1h-1zM227 552h11v1h-11zM239 552h3v1h-3zM243 552h4v1h-4zM248 552h1v1h-1zM251 552h2v1h-2zM224 553h3v1h-3zM228 553h4v1h-4zM233 553h1v1h-1zM240 553h1v1h-1zM243 553h2v1h-2zM247 553h1v1h-1zM251 553h2v1h-2zM223 554h1v1h-1zM227 554h5v1h-5zM234 554h5v1h-5zM240 554h1v1h-1zM243 554h1v1h-1zM250 554h4v1h-4zM221 555h2v1h-2zM229 555h3v1h-3zM235 555h5v1h-5zM241 555h1v1h-1zM243 555h2v1h-2zM249 555h1v1h-1zM253 555h2v1h-2zM220 556h1v1h-1zM230 556h3v1h-3zM238 556h1v1h-1zM242 556h2v1h-2zM253 556h2v1h-2zM219 557h1v1h-1zM231 557h2v1h-2zM239 557h1v1h-1zM246 557h1v1h-1zM251 557h2v1h-2zM254 557h1v1h-1zM256 557h1v1h-1zM219 558h1v1h-1zM245 558h1v1h-1zM254 558h3v1h-3zM219 559h1v1h-1zM254 559h3v1h-3zM219 560h1v1h-1zM223 560h1v1h-1zM236 560h2v1h-2zM256 560h2v1h-2zM219 561h1v1h-1zM237 561h2v1h-2zM257 561h1v1h-1zM219 562h1v1h-1zM256 562h3v1h-3zM219 563h1v1h-1zM256 563h4v1h-4zM219 564h3v1h-3zM257 564h2v1h-2zM221 565h1v1h-1zM243 565h1v1h-1zM245 565h1v1h-1zM257 565h2v1h-2zM219 566h1v1h-1zM243 566h1v1h-1zM245 566h1v1h-1zM255 566h2v1h-2zM258 566h1v1h-1zM219 567h1v1h-1zM239 567h1v1h-1zM254 567h1v1h-1zM256 567h1v1h-1zM258 567h1v1h-1zM219 568h1v1h-1zM232 568h1v1h-1zM254 568h5v1h-5zM219 569h1v1h-1zM222 569h1v1h-1zM227 569h1v1h-1zM239 569h1v1h-1zM254 569h1v1h-1zM256 569h1v1h-1zM258 569h2v1h-2zM220 570h1v1h-1zM222 570h3v1h-3zM255 570h2v1h-2zM242 571h1v1h-1zM254 571h2v1h-2zM257 571h3v1h-3zM220 572h1v1h-1zM255 572h5v1h-5zM219 573h1v1h-1zM221 573h1v1h-1zM257 573h1v1h-1zM259 573h1v1h-1zM219 574h1v1h-1zM237 574h1v1h-1zM256 574h3v1h-3zM219 575h1v1h-1zM237 575h1v1h-1zM256 575h1v1h-1zM259 575h2v1h-2zM219 576h1v1h-1zM253 576h3v1h-3zM259 576h2v1h-2zM219 577h1v1h-1zM252 577h1v1h-1zM256 577h3v1h-3zM219 578h1v1h-1zM228 578h1v1h-1zM256 578h4v1h-4zM219 579h1v1h-1zM222 579h1v1h-1zM259 579h1v1h-1zM219 580h3v1h-3zM256 580h2v1h-2zM261 580h1v1h-1zM220 581h3v1h-3zM236 581h1v1h-1zM245 581h1v1h-1zM255 581h1v1h-1zM257 581h1v1h-1zM261 581h1v1h-1zM220 582h1v1h-1zM222 582h1v1h-1zM254 582h5v1h-5zM220 583h2v1h-2zM236 583h3v1h-3zM243 583h2v1h-2zM252 583h1v1h-1zM255 583h5v1h-5zM221 584h1v1h-1zM227 584h2v1h-2zM230 584h1v1h-1zM236 584h1v1h-1zM239 584h2v1h-2zM244 584h2v1h-2zM248 584h1v1h-1zM250 584h1v1h-1zM252 584h1v1h-1zM254 584h3v1h-3zM259 584h1v1h-1zM222 585h4v1h-4zM228 585h1v1h-1zM232 585h5v1h-5zM241 585h8v1h-8zM252 585h2v1h-2z" fill="#333"/>
<path d="M293 488h1v1h-1zM305 488h1v1h-1zM305 489h1v1h-1zM308 491h2v1h-2zM308 492h2v1h-2zM302 493h1v1h-1zM314 493h1v1h-1zM302 494h2v1h-2zM308 494h1v1h-1zM308 496h2v1h-2zM303 497h1v1h-1zM306 497h5v1h-5zM286 498h1v1h-1zM301 498h1v1h-1zM303 498h2v1h-2zM306 498h1v1h-1zM308 498h1v1h-1zM310 498h1v1h-1zM313 498h1v1h-1zM302 499h2v1h-2zM306 499h2v1h-2zM304 500h2v1h-2zM307 500h1v1h-1zM314 500h2v1h-2zM305 501h1v1h-1zM307 501h3v1h-3zM314 501h2v1h-2zM301 502h5v1h-5zM315 502h1v1h-1zM300 503h1v1h-1zM302 503h1v1h-1zM304 503h3v1h-3zM315 503h1v1h-1zM295 504h1v1h-1zM300 504h2v1h-2zM305 504h2v1h-2zM308 504h1v1h-1zM311 504h1v1h-1zM313 504h1v1h-1zM245 505h1v1h-1zM291 505h2v1h-2zM308 505h1v1h-1zM312 505h3v1h-3zM231 506h2v1h-2zM246 506h2v1h-2zM299 506h1v1h-1zM302 506h1v1h-1zM310 506h2v1h-2zM313 506h1v1h-1zM231 507h1v1h-1zM298 507h2v1h-2zM301 507h2v1h-2zM305 507h1v1h-1zM307 507h3v1h-3zM287 508h1v1h-1zM297 508h3v1h-3zM304 508h1v1h-1zM306 508h3v1h-3zM287 509h1v1h-1zM299 509h2v1h-2zM304 509h1v1h-1zM306 509h1v1h-1zM309 509h3v1h-3zM318 509h1v1h-1zM244 510h1v1h-1zM246 510h1v1h-1zM297 510h1v1h-1zM303 510h3v1h-3zM307 510h1v1h-1zM310 510h1v1h-1zM313 510h1v1h-1zM227 511h1v1h-1zM241 511h1v1h-1zM296 511h2v1h-2zM303 511h1v1h-1zM307 511h1v1h-1zM312 511h3v1h-3zM227 512h1v1h-1zM231 512h1v1h-1zM250 512h2v1h-2zM310 512h1v1h-1zM312 512h1v1h-1zM227 513h2v1h-2zM237 513h1v1h-1zM240 513h2v1h-2zM303 513h2v1h-2zM307 513h3v1h-3zM312 513h2v1h-2zM317 513h2v1h-2zM225 514h1v1h-1zM228 514h3v1h-3zM237 514h6v1h-6zM292 514h2v1h-2zM304 514h2v1h-2zM309 514h1v1h-1zM312 514h2v1h-2zM228 515h4v1h-4zM233 515h2v1h-2zM237 515h3v1h-3zM246 515h2v1h-2zM303 515h3v1h-3zM308 515h2v1h-2zM228 516h1v1h-1zM230 516h1v1h-1zM234 516h1v1h-1zM237 516h2v1h-2zM245 516h3v1h-3zM300 516h1v1h-1zM303 516h1v1h-1zM312 516h1v1h-1zM229 517h9v1h-9zM240 517h2v1h-2zM244 517h2v1h-2zM296 517h1v1h-1zM303 517h1v1h-1zM307 517h1v1h-1zM312 517h1v1h-1zM318 517h2v1h-2zM225 518h2v1h-2zM232 518h3v1h-3zM238 518h3v1h-3zM242 518h1v1h-1zM245 518h1v1h-1zM249 518h2v1h-2zM296 518h2v1h-2zM302 518h2v1h-2zM307 518h1v1h-1zM309 518h4v1h-4zM314 518h1v1h-1zM221 519h2v1h-2zM225 519h1v1h-1zM228 519h3v1h-3zM232 519h3v1h-3zM239 519h4v1h-4zM244 519h1v1h-1zM296 519h1v1h-1zM302 519h1v1h-1zM304 519h1v1h-1zM308 519h1v1h-1zM221 520h5v1h-5zM228 520h1v1h-1zM231 520h2v1h-2zM234 520h1v1h-1zM236 520h1v1h-1zM238 520h4v1h-4zM246 520h1v1h-1zM253 520h1v1h-1zM302 520h2v1h-2zM307 520h5v1h-5zM223 521h3v1h-3zM227 521h1v1h-1zM230 521h3v1h-3zM235 521h1v1h-1zM239 521h4v1h-4zM245 521h1v1h-1zM247 521h1v1h-1zM251 521h2v1h-2zM302 521h5v1h-5zM310 521h2v1h-2zM223 522h3v1h-3zM228 522h5v1h-5zM237 522h2v1h-2zM241 522h1v1h-1zM243 522h5v1h-5zM251 522h1v1h-1zM299 522h1v1h-1zM301 522h6v1h-6zM308 522h1v1h-1zM312 522h1v1h-1zM224 523h2v1h-2zM228 523h7v1h-7zM237 523h1v1h-1zM240 523h1v1h-1zM242 523h2v1h-2zM248 523h1v1h-1zM299 523h1v1h-1zM305 523h3v1h-3zM309 523h1v1h-1zM311 523h2v1h-2zM225 524h8v1h-8zM234 524h3v1h-3zM239 524h2v1h-2zM242 524h2v1h-2zM245 524h1v1h-1zM248 524h2v1h-2zM305 524h1v1h-1zM307 524h2v1h-2zM311 524h2v1h-2zM226 525h3v1h-3zM230 525h1v1h-1zM236 525h1v1h-1zM238 525h1v1h-1zM240 525h2v1h-2zM243 525h3v1h-3zM248 525h1v1h-1zM305 525h2v1h-2zM312 525h1v1h-1zM238 526h1v1h-1zM240 526h1v1h-1zM242 526h1v1h-1zM246 526h4v1h-4zM294 526h1v1h-1zM306 526h1v1h-1zM227 527h1v1h-1zM234 527h1v1h-1zM238 527h1v1h-1zM241 527h2v1h-2zM247 527h4v1h-4zM306 527h2v1h-2zM222 528h1v1h-1zM225 528h1v1h-1zM227 528h2v1h-2zM230 528h5v1h-5zM238 528h1v1h-1zM240 528h3v1h-3zM247 528h2v1h-2zM251 528h2v1h-2zM307 528h1v1h-1zM312 528h1v1h-1zM223 529h1v1h-1zM227 529h3v1h-3zM231 529h10v1h-10zM242 529h4v1h-4zM247 529h2v1h-2zM222 530h2v1h-2zM227 530h4v1h-4zM232 530h5v1h-5zM238 530h1v1h-1zM240 530h1v1h-1zM244 530h2v1h-2zM247 530h2v1h-2zM225 531h1v1h-1zM230 531h6v1h-6zM237 531h1v1h-1zM240 531h2v1h-2zM249 531h2v1h-2zM225 532h1v1h-1zM232 532h3v1h-3zM240 532h1v1h-1zM246 532h1v1h-1zM219 533h2v1h-2zM232 533h1v1h-1zM234 533h1v1h-1zM238 533h1v1h-1zM241 533h2v1h-2zM244 533h1v1h-1zM231 534h2v1h-2zM235 534h1v1h-1zM237 534h1v1h-1zM241 534h3v1h-3zM246 534h1v1h-1zM251 534h2v1h-2zM235 535h2v1h-2zM238 535h6v1h-6zM250 535h4v1h-4zM229 536h2v1h-2zM232 536h9v1h-9zM242 536h4v1h-4zM248 536h4v1h-4zM225 537h1v1h-1zM229 537h5v1h-5zM235 537h1v1h-1zM237 537h1v1h-1zM239 537h1v1h-1zM242 537h4v1h-4zM231 538h2v1h-2zM236 538h3v1h-3zM245 538h1v1h-1zM248 538h1v1h-1zM230 539h5v1h-5zM240 539h1v1h-1zM245 539h5v1h-5zM232 540h1v1h-1zM239 540h2v1h-2zM246 540h4v1h-4zM251 540h1v1h-1zM230 541h1v1h-1zM233 541h1v1h-1zM245 541h3v1h-3zM249 541h2v1h-2zM219 542h1v1h-1zM237 542h2v1h-2zM246 542h1v1h-1zM219 543h1v1h-1zM226 543h1v1h-1zM228 543h1v1h-1zM233 543h3v1h-3zM237 543h1v1h-1zM243 543h1v1h-1zM245 543h1v1h-1zM225 544h1v1h-1zM228 544h1v1h-1zM233 544h1v1h-1zM237 544h1v1h-1zM241 544h1v1h-1zM243 544h1v1h-1zM245 544h1v1h-1zM227 545h1v1h-1zM229 545h1v1h-1zM234 545h1v1h-1zM237 545h3v1h-3zM244 545h1v1h-1zM247 545h2v1h-2zM251 545h2v1h-2zM223 546h2v1h-2zM228 546h3v1h-3zM232 546h1v1h-1zM237 546h1v1h-1zM241 546h1v1h-1zM246 546h2v1h-2zM249 546h1v1h-1zM221 547h2v1h-2zM224 547h2v1h-2zM235 547h1v1h-1zM240 547h2v1h-2zM246 547h3v1h-3zM250 547h1v1h-1zM252 547h1v1h-1zM221 548h3v1h-3zM230 548h1v1h-1zM232 548h2v1h-2zM236 548h1v1h-1zM240 548h1v1h-1zM247 548h3v1h-3zM251 548h1v1h-1zM223 549h1v1h-1zM230 549h1v1h-1zM232 549h2v1h-2zM236 549h1v1h-1zM238 549h1v1h-1zM241 549h1v1h-1zM243 549h1v1h-1zM250 549h1v1h-1zM252 549h1v1h-1zM219 550h1v1h-1zM238 550h1v1h-1zM243 550h1v1h-1zM247 550h1v1h-1zM249 550h1v1h-1zM251 550h1v1h-1zM219 551h1v1h-1zM224 551h3v1h-3zM228 551h1v1h-1zM230 551h1v1h-1zM241 551h1v1h-1zM244 551h2v1h-2zM252 551h2v1h-2zM224 552h1v1h-1zM226 552h1v1h-1zM247 552h1v1h-1zM253 552h1v1h-1zM227 553h1v1h-1zM234 553h1v1h-1zM236 553h2v1h-2zM239 553h1v1h-1zM241 553h1v1h-1zM248 553h1v1h-1zM239 554h1v1h-1zM241 554h2v1h-2zM242 555h1v1h-1zM255 555h1v1h-1zM219 556h1v1h-1zM229 556h1v1h-1zM256 556h1v1h-1zM255 557h1v1h-1zM257 557h1v1h-1zM257 558h2v1h-2zM223 559h1v1h-1zM261 559h1v1h-1zM261 560h2v1h-2zM220 561h1v1h-1zM226 561h1v1h-1zM259 561h1v1h-1zM261 561h2v1h-2zM260 563h1v1h-1zM259 564h2v1h-2zM219 565h2v1h-2zM244 565h1v1h-1zM252 565h1v1h-1zM244 566h1v1h-1zM259 566h1v1h-1zM255 567h1v1h-1zM259 567h1v1h-1zM233 568h1v1h-1zM239 568h1v1h-1zM223 569h1v1h-1zM257 569h1v1h-1zM260 569h1v1h-1zM219 570h1v1h-1zM242 570h1v1h-1zM254 570h1v1h-1zM258 570h3v1h-3zM220 571h1v1h-1zM223 571h1v1h-1zM256 571h1v1h-1zM260 571h1v1h-1zM219 572h1v1h-1zM248 572h1v1h-1zM260 572h1v1h-1zM220 573h1v1h-1zM258 573h1v1h-1zM260 573h1v1h-1zM238 574h1v1h-1zM259 574h2v1h-2zM261 575h1v1h-1zM223 576h1v1h-1zM229 576h1v1h-1zM256 576h3v1h-3zM261 576h1v1h-1zM259 577h1v1h-1zM261 577h2v1h-2zM256 579h3v1h-3zM258 580h1v1h-1zM262 580h1v1h-1zM237 581h1v1h-1zM260 581h1v1h-1zM262 581h1v1h-1zM219 582h1v1h-1zM221 582h1v1h-1zM244 582h1v1h-1zM259 582h3v1h-3zM219 583h1v1h-1zM254 583h1v1h-1zM260 583h1v1h-1zM220 584h1v1h-1zM237 584h1v1h-1zM249 584h1v1h-1zM251 584h1v1h-1zM257 584h2v1h-2zM260 584h1v1h-1zM220 585h1v1h-1zM226 585h1v1h-1zM229 585h1v1h-1zM231 585h1v1h-1zM237 585h1v1h-1zM240 585h1v1h-1zM249 585h1v1h-1zM251 585h1v1h-1zM254 585h1v1h-1zM256 585h1v1h-1zM259 585h1v1h-1z" fill="#666"/>
<path d="M243 476h1v1h-1zM272 481h1v1h-1zM280 481h1v1h-1zM307 484h1v1h-1zM313 484h1v1h-1zM306 485h1v1h-1zM308 485h2v1h-2zM314 485h1v1h-1zM311 486h1v1h-1zM312 487h1v1h-1zM317 487h1v1h-1zM284 488h1v1h-1zM300 488h1v1h-1zM302 488h1v1h-1zM304 488h1v1h-1zM306 488h1v1h-1zM310 488h1v1h-1zM313 488h1v1h-1zM316 488h1v1h-1zM284 489h1v1h-1zM292 489h1v1h-1zM294 489h5v1h-5zM300 489h1v1h-1zM302 489h1v1h-1zM304 489h1v1h-1zM306 489h1v1h-1zM310 489h2v1h-2zM319 489h1v1h-1zM284 490h1v1h-1zM300 490h1v1h-1zM305 490h1v1h-1zM307 490h1v1h-1zM310 490h1v1h-1zM318 490h1v1h-1zM299 491h1v1h-1zM311 491h1v1h-1zM315 491h1v1h-1zM317 491h2v1h-2zM284 492h1v1h-1zM286 492h1v1h-1zM293 492h2v1h-2zM297 492h1v1h-1zM301 492h3v1h-3zM306 492h1v1h-1zM312 492h1v1h-1zM314 492h2v1h-2zM317 492h1v1h-1zM321 492h1v1h-1zM285 493h1v1h-1zM297 493h1v1h-1zM301 493h1v1h-1zM303 493h1v1h-1zM308 493h1v1h-1zM311 493h2v1h-2zM315 493h1v1h-1zM238 494h1v1h-1zM293 494h1v1h-1zM298 494h1v1h-1zM301 494h1v1h-1zM304 494h1v1h-1zM307 494h1v1h-1zM311 494h1v1h-1zM316 494h1v1h-1zM238 495h1v1h-1zM242 495h1v1h-1zM301 495h3v1h-3zM307 495h3v1h-3zM315 495h1v1h-1zM242 496h1v1h-1zM245 496h2v1h-2zM252 496h1v1h-1zM286 496h2v1h-2zM297 496h2v1h-2zM306 496h2v1h-2zM310 496h1v1h-1zM312 496h1v1h-1zM316 496h1v1h-1zM318 496h1v1h-1zM321 496h1v1h-1zM234 497h1v1h-1zM288 497h1v1h-1zM291 497h2v1h-2zM298 497h1v1h-1zM311 497h3v1h-3zM318 497h3v1h-3zM245 498h1v1h-1zM285 498h1v1h-1zM291 498h1v1h-1zM296 498h1v1h-1zM300 498h1v1h-1zM302 498h1v1h-1zM309 498h1v1h-1zM311 498h2v1h-2zM317 498h1v1h-1zM320 498h1v1h-1zM228 499h1v1h-1zM285 499h3v1h-3zM291 499h1v1h-1zM296 499h1v1h-1zM300 499h2v1h-2zM304 499h2v1h-2zM308 499h4v1h-4zM314 499h1v1h-1zM228 500h1v1h-1zM286 500h1v1h-1zM294 500h1v1h-1zM297 500h2v1h-2zM302 500h2v1h-2zM306 500h1v1h-1zM308 500h3v1h-3zM316 500h1v1h-1zM256 501h1v1h-1zM298 501h1v1h-1zM302 501h3v1h-3zM306 501h1v1h-1zM310 501h1v1h-1zM313 501h1v1h-1zM316 501h3v1h-3zM229 502h1v1h-1zM281 502h1v1h-1zM287 502h1v1h-1zM300 502h1v1h-1zM306 502h1v1h-1zM308 502h2v1h-2zM313 502h2v1h-2zM316 502h1v1h-1zM227 503h3v1h-3zM252 503h1v1h-1zM289 503h2v1h-2zM294 503h2v1h-2zM299 503h1v1h-1zM301 503h1v1h-1zM303 503h1v1h-1zM309 503h2v1h-2zM314 503h1v1h-1zM316 503h1v1h-1zM228 504h2v1h-2zM231 504h2v1h-2zM285 504h2v1h-2zM292 504h1v1h-1zM294 504h1v1h-1zM298 504h2v1h-2zM307 504h1v1h-1zM309 504h1v1h-1zM312 504h1v1h-1zM314 504h1v1h-1zM224 505h2v1h-2zM231 505h2v1h-2zM234 505h2v1h-2zM243 505h2v1h-2zM289 505h2v1h-2zM293 505h3v1h-3zM298 505h3v1h-3zM302 505h2v1h-2zM307 505h1v1h-1zM309 505h3v1h-3zM315 505h1v1h-1zM317 505h1v1h-1zM320 505h1v1h-1zM233 506h1v1h-1zM236 506h1v1h-1zM244 506h2v1h-2zM291 506h3v1h-3zM296 506h1v1h-1zM303 506h2v1h-2zM306 506h4v1h-4zM312 506h1v1h-1zM314 506h1v1h-1zM316 506h1v1h-1zM320 506h1v1h-1zM230 507h1v1h-1zM236 507h1v1h-1zM240 507h1v1h-1zM243 507h2v1h-2zM283 507h1v1h-1zM285 507h1v1h-1zM288 507h1v1h-1zM292 507h1v1h-1zM296 507h2v1h-2zM300 507h1v1h-1zM303 507h2v1h-2zM306 507h1v1h-1zM310 507h1v1h-1zM313 507h1v1h-1zM224 508h1v1h-1zM233 508h1v1h-1zM235 508h2v1h-2zM239 508h1v1h-1zM288 508h1v1h-1zM292 508h1v1h-1zM296 508h1v1h-1zM300 508h4v1h-4zM309 508h3v1h-3zM314 508h1v1h-1zM316 508h1v1h-1zM318 508h1v1h-1zM327 508h1v1h-1zM229 509h2v1h-2zM233 509h5v1h-5zM239 509h1v1h-1zM243 509h4v1h-4zM253 509h1v1h-1zM286 509h1v1h-1zM291 509h2v1h-2zM296 509h3v1h-3zM301 509h3v1h-3zM305 509h1v1h-1zM307 509h2v1h-2zM312 509h1v1h-1zM315 509h1v1h-1zM226 510h2v1h-2zM230 510h1v1h-1zM235 510h1v1h-1zM239 510h1v1h-1zM241 510h1v1h-1zM243 510h1v1h-1zM245 510h1v1h-1zM251 510h1v1h-1zM284 510h2v1h-2zM291 510h1v1h-1zM298 510h4v1h-4zM306 510h1v1h-1zM311 510h2v1h-2zM314 510h2v1h-2zM317 510h1v1h-1zM226 511h1v1h-1zM235 511h1v1h-1zM239 511h2v1h-2zM242 511h1v1h-1zM245 511h1v1h-1zM250 511h1v1h-1zM256 511h1v1h-1zM293 511h1v1h-1zM298 511h2v1h-2zM304 511h3v1h-3zM311 511h1v1h-1zM222 512h2v1h-2zM228 512h1v1h-1zM230 512h1v1h-1zM232 512h1v1h-1zM240 512h3v1h-3zM244 512h1v1h-1zM248 512h2v1h-2zM252 512h2v1h-2zM256 512h3v1h-3zM284 512h1v1h-1zM296 512h2v1h-2zM300 512h1v1h-1zM303 512h1v1h-1zM305 512h2v1h-2zM311 512h1v1h-1zM314 512h1v1h-1zM316 512h1v1h-1zM223 513h1v1h-1zM225 513h1v1h-1zM229 513h3v1h-3zM233 513h3v1h-3zM238 513h2v1h-2zM244 513h1v1h-1zM250 513h4v1h-4zM255 513h1v1h-1zM258 513h1v1h-1zM269 513h1v1h-1zM285 513h1v1h-1zM290 513h4v1h-4zM299 513h1v1h-1zM302 513h1v1h-1zM305 513h2v1h-2zM315 513h2v1h-2zM319 513h2v1h-2zM322 513h1v1h-1zM327 513h1v1h-1zM221 514h1v1h-1zM224 514h1v1h-1zM227 514h1v1h-1zM231 514h6v1h-6zM245 514h4v1h-4zM252 514h2v1h-2zM269 514h1v1h-1zM281 514h1v1h-1zM289 514h3v1h-3zM294 514h2v1h-2zM301 514h3v1h-3zM306 514h1v1h-1zM308 514h1v1h-1zM316 514h3v1h-3zM322 514h1v1h-1zM220 515h5v1h-5zM227 515h1v1h-1zM232 515h1v1h-1zM235 515h2v1h-2zM240 515h4v1h-4zM245 515h1v1h-1zM250 515h5v1h-5zM271 515h1v1h-1zM281 515h1v1h-1zM290 515h2v1h-2zM293 515h1v1h-1zM295 515h2v1h-2zM298 515h1v1h-1zM302 515h1v1h-1zM310 515h3v1h-3zM315 515h1v1h-1zM318 515h1v1h-1zM219 516h1v1h-1zM221 516h1v1h-1zM224 516h1v1h-1zM226 516h1v1h-1zM229 516h1v1h-1zM231 516h3v1h-3zM235 516h2v1h-2zM239 516h3v1h-3zM244 516h1v1h-1zM249 516h1v1h-1zM256 516h1v1h-1zM259 516h1v1h-1zM290 516h2v1h-2zM295 516h3v1h-3zM299 516h1v1h-1zM304 516h1v1h-1zM306 516h4v1h-4zM313 516h1v1h-1zM219 517h2v1h-2zM226 517h1v1h-1zM238 517h2v1h-2zM242 517h2v1h-2zM246 517h1v1h-1zM248 517h2v1h-2zM252 517h2v1h-2zM255 517h2v1h-2zM258 517h3v1h-3zM295 517h1v1h-1zM299 517h2v1h-2zM302 517h1v1h-1zM304 517h3v1h-3zM308 517h2v1h-2zM313 517h4v1h-4zM219 518h2v1h-2zM222 518h1v1h-1zM229 518h2v1h-2zM235 518h3v1h-3zM241 518h1v1h-1zM246 518h3v1h-3zM252 518h1v1h-1zM255 518h1v1h-1zM266 518h2v1h-2zM273 518h1v1h-1zM295 518h1v1h-1zM298 518h1v1h-1zM304 518h1v1h-1zM308 518h1v1h-1zM313 518h1v1h-1zM315 518h2v1h-2zM318 518h1v1h-1zM220 519h1v1h-1zM224 519h1v1h-1zM226 519h1v1h-1zM236 519h1v1h-1zM243 519h1v1h-1zM245 519h6v1h-6zM254 519h1v1h-1zM285 519h1v1h-1zM288 519h1v1h-1zM290 519h2v1h-2zM293 519h1v1h-1zM297 519h1v1h-1zM299 519h1v1h-1zM305 519h1v1h-1zM307 519h1v1h-1zM311 519h2v1h-2zM320 519h1v1h-1zM226 520h2v1h-2zM229 520h2v1h-2zM233 520h1v1h-1zM235 520h1v1h-1zM243 520h1v1h-1zM247 520h3v1h-3zM251 520h2v1h-2zM254 520h1v1h-1zM259 520h2v1h-2zM262 520h2v1h-2zM286 520h2v1h-2zM289 520h6v1h-6zM298 520h1v1h-1zM301 520h1v1h-1zM305 520h1v1h-1zM312 520h1v1h-1zM319 520h1v1h-1zM220 521h1v1h-1zM222 521h1v1h-1zM226 521h1v1h-1zM228 521h2v1h-2zM236 521h1v1h-1zM243 521h2v1h-2zM246 521h1v1h-1zM248 521h1v1h-1zM285 521h1v1h-1zM287 521h2v1h-2zM290 521h3v1h-3zM295 521h1v1h-1zM298 521h1v1h-1zM301 521h1v1h-1zM307 521h1v1h-1zM309 521h1v1h-1zM312 521h1v1h-1zM221 522h1v1h-1zM226 522h2v1h-2zM233 522h4v1h-4zM242 522h1v1h-1zM248 522h1v1h-1zM250 522h1v1h-1zM257 522h1v1h-1zM264 522h2v1h-2zM282 522h1v1h-1zM285 522h1v1h-1zM298 522h1v1h-1zM307 522h1v1h-1zM309 522h3v1h-3zM313 522h1v1h-1zM315 522h2v1h-2zM220 523h1v1h-1zM222 523h2v1h-2zM226 523h2v1h-2zM235 523h2v1h-2zM241 523h1v1h-1zM244 523h4v1h-4zM249 523h1v1h-1zM253 523h1v1h-1zM255 523h1v1h-1zM257 523h1v1h-1zM263 523h3v1h-3zM275 523h1v1h-1zM278 523h1v1h-1zM290 523h2v1h-2zM296 523h3v1h-3zM310 523h1v1h-1zM313 523h2v1h-2zM223 524h2v1h-2zM233 524h1v1h-1zM244 524h1v1h-1zM253 524h1v1h-1zM255 524h1v1h-1zM275 524h2v1h-2zM284 524h1v1h-1zM290 524h1v1h-1zM292 524h1v1h-1zM299 524h2v1h-2zM309 524h1v1h-1zM313 524h2v1h-2zM219 525h3v1h-3zM225 525h1v1h-1zM229 525h1v1h-1zM233 525h1v1h-1zM239 525h1v1h-1zM247 525h1v1h-1zM249 525h3v1h-3zM253 525h1v1h-1zM278 525h1v1h-1zM283 525h6v1h-6zM292 525h3v1h-3zM298 525h2v1h-2zM303 525h1v1h-1zM307 525h1v1h-1zM309 525h1v1h-1zM311 525h1v1h-1zM313 525h1v1h-1zM317 525h2v1h-2zM219 526h1v1h-1zM226 526h2v1h-2zM243 526h1v1h-1zM245 526h1v1h-1zM250 526h1v1h-1zM261 526h1v1h-1zM281 526h1v1h-1zM283 526h2v1h-2zM286 526h3v1h-3zM293 526h1v1h-1zM299 526h1v1h-1zM301 526h2v1h-2zM305 526h1v1h-1zM307 526h1v1h-1zM310 526h3v1h-3zM314 526h1v1h-1zM317 526h1v1h-1zM225 527h2v1h-2zM245 527h2v1h-2zM257 527h1v1h-1zM259 527h1v1h-1zM277 527h1v1h-1zM287 527h1v1h-1zM289 527h1v1h-1zM292 527h1v1h-1zM301 527h2v1h-2zM304 527h1v1h-1zM312 527h1v1h-1zM315 527h1v1h-1zM223 528h2v1h-2zM226 528h1v1h-1zM229 528h1v1h-1zM237 528h1v1h-1zM243 528h1v1h-1zM245 528h2v1h-2zM249 528h2v1h-2zM256 528h1v1h-1zM258 528h1v1h-1zM261 528h1v1h-1zM265 528h2v1h-2zM289 528h2v1h-2zM300 528h1v1h-1zM303 528h1v1h-1zM306 528h1v1h-1zM308 528h1v1h-1zM316 528h1v1h-1zM318 528h1v1h-1zM219 529h4v1h-4zM224 529h3v1h-3zM241 529h1v1h-1zM246 529h1v1h-1zM251 529h3v1h-3zM257 529h2v1h-2zM260 529h1v1h-1zM262 529h2v1h-2zM284 529h1v1h-1zM297 529h1v1h-1zM304 529h3v1h-3zM310 529h1v1h-1zM312 529h1v1h-1zM314 529h2v1h-2zM317 529h1v1h-1zM219 530h1v1h-1zM224 530h1v1h-1zM231 530h1v1h-1zM237 530h1v1h-1zM241 530h1v1h-1zM243 530h1v1h-1zM246 530h1v1h-1zM249 530h3v1h-3zM262 530h1v1h-1zM264 530h1v1h-1zM276 530h4v1h-4zM303 530h1v1h-1zM310 530h1v1h-1zM221 531h1v1h-1zM224 531h1v1h-1zM242 531h7v1h-7zM251 531h1v1h-1zM266 531h1v1h-1zM276 531h2v1h-2zM279 531h2v1h-2zM302 531h2v1h-2zM310 531h1v1h-1zM315 531h1v1h-1zM219 532h3v1h-3zM224 532h1v1h-1zM226 532h2v1h-2zM230 532h2v1h-2zM241 532h5v1h-5zM249 532h3v1h-3zM253 532h1v1h-1zM255 532h3v1h-3zM259 532h3v1h-3zM269 532h2v1h-2zM277 532h1v1h-1zM315 532h1v1h-1zM222 533h4v1h-4zM227 533h1v1h-1zM231 533h1v1h-1zM233 533h1v1h-1zM239 533h2v1h-2zM243 533h1v1h-1zM245 533h3v1h-3zM251 533h2v1h-2zM254 533h1v1h-1zM256 533h1v1h-1zM258 533h1v1h-1zM260 533h1v1h-1zM268 533h1v1h-1zM270 533h1v1h-1zM223 534h3v1h-3zM228 534h2v1h-2zM233 534h2v1h-2zM238 534h1v1h-1zM240 534h1v1h-1zM244 534h2v1h-2zM248 534h3v1h-3zM253 534h1v1h-1zM256 534h1v1h-1zM258 534h2v1h-2zM276 534h2v1h-2zM226 535h2v1h-2zM229 535h6v1h-6zM237 535h1v1h-1zM244 535h2v1h-2zM247 535h3v1h-3zM323 535h1v1h-1zM219 536h3v1h-3zM226 536h1v1h-1zM231 536h1v1h-1zM241 536h1v1h-1zM253 536h1v1h-1zM268 536h1v1h-1zM281 536h1v1h-1zM292 536h2v1h-2zM220 537h2v1h-2zM223 537h2v1h-2zM226 537h3v1h-3zM234 537h1v1h-1zM238 537h1v1h-1zM248 537h3v1h-3zM223 538h2v1h-2zM228 538h3v1h-3zM233 538h3v1h-3zM239 538h1v1h-1zM243 538h2v1h-2zM246 538h1v1h-1zM249 538h1v1h-1zM256 538h1v1h-1zM259 538h1v1h-1zM223 539h1v1h-1zM226 539h1v1h-1zM235 539h2v1h-2zM239 539h1v1h-1zM241 539h1v1h-1zM243 539h2v1h-2zM250 539h1v1h-1zM221 540h1v1h-1zM227 540h5v1h-5zM234 540h1v1h-1zM236 540h2v1h-2zM241 540h1v1h-1zM243 540h3v1h-3zM250 540h1v1h-1zM257 540h1v1h-1zM265 540h1v1h-1zM275 540h1v1h-1zM308 540h2v1h-2zM224 541h3v1h-3zM228 541h2v1h-2zM232 541h1v1h-1zM238 541h5v1h-5zM244 541h1v1h-1zM248 541h1v1h-1zM251 541h4v1h-4zM257 541h1v1h-1zM279 541h1v1h-1zM225 542h1v1h-1zM230 542h5v1h-5zM241 542h1v1h-1zM244 542h2v1h-2zM247 542h4v1h-4zM253 542h1v1h-1zM220 543h1v1h-1zM223 543h3v1h-3zM231 543h2v1h-2zM236 543h1v1h-1zM240 543h3v1h-3zM244 543h1v1h-1zM246 543h1v1h-1zM249 543h1v1h-1zM252 543h2v1h-2zM229 544h1v1h-1zM231 544h1v1h-1zM235 544h1v1h-1zM238 544h1v1h-1zM240 544h1v1h-1zM244 544h1v1h-1zM246 544h4v1h-4zM251 544h1v1h-1zM253 544h1v1h-1zM225 545h2v1h-2zM228 545h1v1h-1zM230 545h1v1h-1zM233 545h1v1h-1zM235 545h1v1h-1zM240 545h1v1h-1zM243 545h1v1h-1zM245 545h2v1h-2zM249 545h1v1h-1zM253 545h1v1h-1zM266 545h1v1h-1zM271 545h1v1h-1zM219 546h2v1h-2zM225 546h3v1h-3zM231 546h1v1h-1zM236 546h1v1h-1zM238 546h1v1h-1zM240 546h1v1h-1zM242 546h3v1h-3zM250 546h3v1h-3zM254 546h1v1h-1zM230 547h3v1h-3zM236 547h2v1h-2zM242 547h1v1h-1zM244 547h2v1h-2zM249 547h1v1h-1zM251 547h1v1h-1zM266 547h1v1h-1zM224 548h2v1h-2zM231 548h1v1h-1zM234 548h1v1h-1zM237 548h1v1h-1zM241 548h1v1h-1zM244 548h1v1h-1zM252 548h1v1h-1zM222 549h1v1h-1zM231 549h1v1h-1zM237 549h1v1h-1zM239 549h1v1h-1zM242 549h1v1h-1zM244 549h1v1h-1zM251 549h1v1h-1zM253 549h1v1h-1zM223 550h1v1h-1zM230 550h1v1h-1zM232 550h1v1h-1zM241 550h2v1h-2zM244 550h2v1h-2zM250 550h1v1h-1zM253 550h1v1h-1zM259 550h1v1h-1zM231 551h2v1h-2zM238 551h1v1h-1zM242 551h1v1h-1zM246 551h1v1h-1zM258 551h1v1h-1zM268 551h1v1h-1zM221 552h1v1h-1zM238 552h1v1h-1zM242 552h1v1h-1zM256 552h1v1h-1zM258 552h1v1h-1zM219 553h1v1h-1zM222 553h2v1h-2zM235 553h1v1h-1zM238 553h1v1h-1zM242 553h1v1h-1zM253 553h1v1h-1zM256 553h1v1h-1zM220 554h3v1h-3zM254 554h3v1h-3zM259 554h1v1h-1zM220 555h1v1h-1zM258 555h1v1h-1zM255 556h1v1h-1zM257 556h1v1h-1zM258 557h2v1h-2zM259 558h1v1h-1zM257 559h2v1h-2zM265 559h1v1h-1zM258 561h1v1h-1zM260 561h1v1h-1zM259 562h3v1h-3zM261 563h2v1h-2zM261 564h1v1h-1zM259 565h1v1h-1zM260 567h1v1h-1zM265 567h1v1h-1zM259 568h2v1h-2zM265 568h1v1h-1zM257 570h1v1h-1zM275 570h1v1h-1zM219 571h1v1h-1zM261 571h1v1h-1zM263 572h1v1h-1zM268 572h1v1h-1zM270 572h2v1h-2zM276 572h1v1h-1zM282 572h1v1h-1zM263 573h1v1h-1zM269 573h2v1h-2zM269 574h3v1h-3zM277 574h1v1h-1zM257 575h2v1h-2zM269 575h5v1h-5zM295 575h1v1h-1zM262 576h2v1h-2zM265 576h1v1h-1zM269 576h1v1h-1zM276 576h1v1h-1zM280 576h2v1h-2zM260 577h1v1h-1zM264 577h2v1h-2zM268 577h2v1h-2zM280 577h1v1h-1zM292 577h1v1h-1zM313 577h1v1h-1zM260 578h1v1h-1zM266 578h2v1h-2zM260 579h1v1h-1zM262 579h2v1h-2zM266 579h2v1h-2zM275 579h1v1h-1zM282 579h2v1h-2zM259 580h2v1h-2zM263 580h1v1h-1zM273 580h3v1h-3zM219 581h1v1h-1zM258 581h1v1h-1zM274 581h1v1h-1zM262 582h1v1h-1zM276 582h1v1h-1zM261 583h1v1h-1zM266 583h1v1h-1zM272 583h1v1h-1zM219 584h1v1h-1zM238 584h1v1h-1zM263 584h1v1h-1zM266 584h2v1h-2zM219 585h1v1h-1zM221 585h1v1h-1zM227 585h1v1h-1zM230 585h1v1h-1zM250 585h1v1h-1zM255 585h1v1h-1zM261 585h2v1h-2zM268 585h1v1h-1z" fill="#999"/>
<path d="M227 463h1v1h-1zM245 463h1v1h-1zM258 463h1v1h-1zM304 471h1v1h-1zM243 475h1v1h-1zM231 476h1v1h-1zM311 477h1v1h-1zM237 478h1v1h-1zM297 478h1v1h-1zM318 478h1v1h-1zM336 478h1v1h-1zM230 479h1v1h-1zM234 479h1v1h-1zM290 479h1v1h-1zM234 480h1v1h-1zM241 480h1v1h-1zM260 480h1v1h-1zM275 480h1v1h-1zM311 480h1v1h-1zM226 481h1v1h-1zM233 481h1v1h-1zM250 481h1v1h-1zM268 481h2v1h-2zM277 481h1v1h-1zM234 482h1v1h-1zM263 482h1v1h-1zM227 483h1v1h-1zM230 483h1v1h-1zM236 483h1v1h-1zM252 483h1v1h-1zM259 483h1v1h-1zM273 483h1v1h-1zM277 483h1v1h-1zM225 484h1v1h-1zM229 484h1v1h-1zM241 484h1v1h-1zM244 484h1v1h-1zM248 484h1v1h-1zM260 484h1v1h-1zM306 484h1v1h-1zM308 484h1v1h-1zM314 484h1v1h-1zM226 485h1v1h-1zM237 485h1v1h-1zM307 485h1v1h-1zM313 485h1v1h-1zM334 485h1v1h-1zM338 485h1v1h-1zM240 486h1v1h-1zM246 486h1v1h-1zM259 486h1v1h-1zM267 486h1v1h-1zM270 486h1v1h-1zM272 486h1v1h-1zM279 486h2v1h-2zM284 486h1v1h-1zM287 486h1v1h-1zM303 486h1v1h-1zM312 486h1v1h-1zM233 487h1v1h-1zM239 487h1v1h-1zM245 487h1v1h-1zM273 487h1v1h-1zM281 487h1v1h-1zM284 487h1v1h-1zM286 487h1v1h-1zM292 487h2v1h-2zM303 487h3v1h-3zM311 487h1v1h-1zM313 487h1v1h-1zM316 487h1v1h-1zM239 488h1v1h-1zM287 488h1v1h-1zM292 488h1v1h-1zM294 488h1v1h-1zM297 488h1v1h-1zM301 488h1v1h-1zM303 488h1v1h-1zM311 488h2v1h-2zM317 488h1v1h-1zM226 489h1v1h-1zM236 489h1v1h-1zM250 489h1v1h-1zM252 489h1v1h-1zM254 489h1v1h-1zM256 489h1v1h-1zM275 489h1v1h-1zM285 489h1v1h-1zM287 489h1v1h-1zM293 489h1v1h-1zM299 489h1v1h-1zM301 489h1v1h-1zM303 489h1v1h-1zM307 489h1v1h-1zM309 489h1v1h-1zM318 489h1v1h-1zM236 490h1v1h-1zM242 490h1v1h-1zM250 490h1v1h-1zM285 490h2v1h-2zM290 490h1v1h-1zM294 490h6v1h-6zM301 490h1v1h-1zM304 490h1v1h-1zM306 490h1v1h-1zM308 490h2v1h-2zM311 490h1v1h-1zM317 490h1v1h-1zM319 490h1v1h-1zM237 491h1v1h-1zM243 491h1v1h-1zM245 491h1v1h-1zM260 491h1v1h-1zM267 491h1v1h-1zM270 491h1v1h-1zM284 491h3v1h-3zM294 491h1v1h-1zM296 491h3v1h-3zM300 491h2v1h-2zM306 491h2v1h-2zM310 491h1v1h-1zM312 491h1v1h-1zM314 491h1v1h-1zM316 491h1v1h-1zM234 492h1v1h-1zM253 492h1v1h-1zM258 492h1v1h-1zM262 492h1v1h-1zM265 492h2v1h-2zM273 492h1v1h-1zM283 492h1v1h-1zM285 492h1v1h-1zM287 492h2v1h-2zM296 492h1v1h-1zM298 492h1v1h-1zM300 492h1v1h-1zM307 492h1v1h-1zM310 492h2v1h-2zM313 492h1v1h-1zM316 492h1v1h-1zM318 492h1v1h-1zM320 492h1v1h-1zM225 493h1v1h-1zM234 493h1v1h-1zM238 493h1v1h-1zM240 493h1v1h-1zM244 493h1v1h-1zM284 493h1v1h-1zM286 493h1v1h-1zM293 493h2v1h-2zM298 493h1v1h-1zM304 493h1v1h-1zM307 493h1v1h-1zM309 493h2v1h-2zM313 493h1v1h-1zM316 493h2v1h-2zM226 494h1v1h-1zM243 494h1v1h-1zM255 494h1v1h-1zM270 494h2v1h-2zM274 494h1v1h-1zM277 494h3v1h-3zM283 494h1v1h-1zM285 494h1v1h-1zM291 494h1v1h-1zM294 494h2v1h-2zM297 494h1v1h-1zM309 494h2v1h-2zM312 494h1v1h-1zM314 494h2v1h-2zM317 494h2v1h-2zM229 495h1v1h-1zM231 495h1v1h-1zM235 495h3v1h-3zM241 495h1v1h-1zM243 495h1v1h-1zM245 495h2v1h-2zM248 495h1v1h-1zM258 495h1v1h-1zM260 495h1v1h-1zM286 495h1v1h-1zM289 495h1v1h-1zM295 495h1v1h-1zM297 495h2v1h-2zM300 495h1v1h-1zM304 495h1v1h-1zM306 495h1v1h-1zM310 495h1v1h-1zM316 495h3v1h-3zM326 495h1v1h-1zM237 496h2v1h-2zM241 496h1v1h-1zM243 496h2v1h-2zM263 496h1v1h-1zM283 496h1v1h-1zM285 496h1v1h-1zM288 496h4v1h-4zM295 496h2v1h-2zM299 496h2v1h-2zM303 496h1v1h-1zM311 496h1v1h-1zM315 496h1v1h-1zM317 496h1v1h-1zM319 496h2v1h-2zM223 497h1v1h-1zM241 497h1v1h-1zM245 497h1v1h-1zM260 497h1v1h-1zM262 497h3v1h-3zM278 497h1v1h-1zM285 497h3v1h-3zM289 497h2v1h-2zM293 497h1v1h-1zM297 497h1v1h-1zM299 497h4v1h-4zM304 497h2v1h-2zM314 497h1v1h-1zM316 497h2v1h-2zM321 497h1v1h-1zM222 498h1v1h-1zM228 498h1v1h-1zM234 498h1v1h-1zM237 498h1v1h-1zM239 498h1v1h-1zM248 498h1v1h-1zM258 498h1v1h-1zM268 498h1v1h-1zM280 498h1v1h-1zM282 498h1v1h-1zM287 498h1v1h-1zM290 498h1v1h-1zM292 498h2v1h-2zM299 498h1v1h-1zM305 498h1v1h-1zM314 498h3v1h-3zM318 498h2v1h-2zM321 498h1v1h-1zM229 499h1v1h-1zM232 499h1v1h-1zM237 499h1v1h-1zM264 499h1v1h-1zM270 499h2v1h-2zM283 499h2v1h-2zM295 499h1v1h-1zM297 499h1v1h-1zM299 499h1v1h-1zM312 499h2v1h-2zM315 499h3v1h-3zM322 499h1v1h-1zM229 500h1v1h-1zM243 500h1v1h-1zM263 500h1v1h-1zM265 500h1v1h-1zM267 500h1v1h-1zM272 500h1v1h-1zM284 500h2v1h-2zM287 500h1v1h-1zM299 500h1v1h-1zM301 500h1v1h-1zM311 500h1v1h-1zM313 500h1v1h-1zM317 500h1v1h-1zM226 501h1v1h-1zM228 501h3v1h-3zM238 501h1v1h-1zM243 501h1v1h-1zM249 501h1v1h-1zM255 501h1v1h-1zM257 501h1v1h-1zM285 501h1v1h-1zM297 501h1v1h-1zM299 501h1v1h-1zM301 501h1v1h-1zM228 502h1v1h-1zM234 502h1v1h-1zM237 502h1v1h-1zM240 502h1v1h-1zM256 502h4v1h-4zM267 502h1v1h-1zM288 502h1v1h-1zM299 502h1v1h-1zM307 502h1v1h-1zM310 502h1v1h-1zM317 502h1v1h-1zM230 503h1v1h-1zM233 503h1v1h-1zM242 503h1v1h-1zM247 503h1v1h-1zM256 503h1v1h-1zM259 503h1v1h-1zM280 503h2v1h-2zM284 503h5v1h-5zM292 503h2v1h-2zM298 503h1v1h-1zM307 503h2v1h-2zM311 503h3v1h-3zM225 504h1v1h-1zM230 504h1v1h-1zM233 504h1v1h-1zM237 504h1v1h-1zM240 504h1v1h-1zM243 504h2v1h-2zM249 504h1v1h-1zM266 504h2v1h-2zM281 504h1v1h-1zM289 504h3v1h-3zM293 504h1v1h-1zM296 504h2v1h-2zM302 504h3v1h-3zM310 504h1v1h-1zM315 504h2v1h-2zM222 505h1v1h-1zM230 505h1v1h-1zM233 505h1v1h-1zM236 505h1v1h-1zM239 505h2v1h-2zM246 505h2v1h-2zM255 505h1v1h-1zM267 505h1v1h-1zM286 505h1v1h-1zM296 505h2v1h-2zM301 505h1v1h-1zM304 505h3v1h-3zM316 505h1v1h-1zM319 505h1v1h-1zM339 505h1v1h-1zM227 506h1v1h-1zM230 506h1v1h-1zM234 506h2v1h-2zM240 506h1v1h-1zM243 506h1v1h-1zM248 506h2v1h-2zM252 506h2v1h-2zM255 506h1v1h-1zM260 506h1v1h-1zM276 506h1v1h-1zM283 506h1v1h-1zM286 506h1v1h-1zM290 506h1v1h-1zM294 506h2v1h-2zM297 506h2v1h-2zM300 506h2v1h-2zM305 506h1v1h-1zM315 506h1v1h-1zM317 506h3v1h-3zM321 506h1v1h-1zM335 506h1v1h-1zM219 507h1v1h-1zM226 507h3v1h-3zM232 507h2v1h-2zM235 507h1v1h-1zM239 507h1v1h-1zM241 507h1v1h-1zM245 507h3v1h-3zM249 507h2v1h-2zM275 507h1v1h-1zM280 507h1v1h-1zM284 507h1v1h-1zM286 507h2v1h-2zM291 507h1v1h-1zM293 507h1v1h-1zM295 507h1v1h-1zM311 507h2v1h-2zM314 507h1v1h-1zM316 507h3v1h-3zM322 507h1v1h-1zM327 507h1v1h-1zM223 508h1v1h-1zM225 508h1v1h-1zM227 508h1v1h-1zM229 508h3v1h-3zM234 508h1v1h-1zM237 508h1v1h-1zM240 508h2v1h-2zM243 508h3v1h-3zM256 508h1v1h-1zM259 508h1v1h-1zM279 508h1v1h-1zM283 508h4v1h-4zM289 508h1v1h-1zM291 508h1v1h-1zM293 508h1v1h-1zM312 508h2v1h-2zM315 508h1v1h-1zM317 508h1v1h-1zM319 508h1v1h-1zM222 509h1v1h-1zM224 509h3v1h-3zM238 509h1v1h-1zM240 509h1v1h-1zM242 509h1v1h-1zM247 509h6v1h-6zM254 509h1v1h-1zM273 509h1v1h-1zM282 509h4v1h-4zM288 509h1v1h-1zM313 509h2v1h-2zM316 509h2v1h-2zM319 509h1v1h-1zM225 510h1v1h-1zM229 510h1v1h-1zM234 510h1v1h-1zM236 510h1v1h-1zM238 510h1v1h-1zM240 510h1v1h-1zM242 510h1v1h-1zM247 510h2v1h-2zM250 510h1v1h-1zM252 510h3v1h-3zM258 510h1v1h-1zM263 510h1v1h-1zM283 510h1v1h-1zM286 510h4v1h-4zM292 510h1v1h-1zM296 510h1v1h-1zM302 510h1v1h-1zM316 510h1v1h-1zM318 510h1v1h-1zM228 511h1v1h-1zM230 511h2v1h-2zM234 511h1v1h-1zM236 511h1v1h-1zM238 511h1v1h-1zM243 511h2v1h-2zM246 511h4v1h-4zM251 511h3v1h-3zM255 511h1v1h-1zM257 511h2v1h-2zM266 511h1v1h-1zM276 511h1v1h-1zM280 511h2v1h-2zM283 511h3v1h-3zM288 511h1v1h-1zM300 511h3v1h-3zM315 511h2v1h-2zM226 512h1v1h-1zM229 512h1v1h-1zM234 512h2v1h-2zM237 512h3v1h-3zM243 512h1v1h-1zM245 512h3v1h-3zM254 512h2v1h-2zM260 512h1v1h-1zM262 512h3v1h-3zM271 512h1v1h-1zM275 512h1v1h-1zM285 512h2v1h-2zM292 512h2v1h-2zM298 512h2v1h-2zM302 512h1v1h-1zM304 512h1v1h-1zM315 512h1v1h-1zM317 512h3v1h-3zM337 512h1v1h-1zM222 513h1v1h-1zM224 513h1v1h-1zM226 513h1v1h-1zM232 513h1v1h-1zM236 513h1v1h-1zM242 513h2v1h-2zM245 513h5v1h-5zM254 513h1v1h-1zM256 513h2v1h-2zM262 513h1v1h-1zM266 513h1v1h-1zM268 513h1v1h-1zM284 513h1v1h-1zM286 513h1v1h-1zM289 513h1v1h-1zM294 513h1v1h-1zM296 513h2v1h-2zM300 513h2v1h-2zM310 513h2v1h-2zM314 513h1v1h-1zM321 513h1v1h-1zM323 513h2v1h-2zM219 514h2v1h-2zM222 514h2v1h-2zM226 514h1v1h-1zM243 514h2v1h-2zM250 514h2v1h-2zM254 514h1v1h-1zM268 514h1v1h-1zM275 514h1v1h-1zM277 514h1v1h-1zM280 514h1v1h-1zM282 514h4v1h-4zM296 514h3v1h-3zM307 514h1v1h-1zM310 514h2v1h-2zM314 514h2v1h-2zM319 514h1v1h-1zM321 514h1v1h-1zM323 514h1v1h-1zM328 514h1v1h-1zM219 515h1v1h-1zM225 515h2v1h-2zM244 515h1v1h-1zM248 515h2v1h-2zM258 515h1v1h-1zM268 515h1v1h-1zM277 515h2v1h-2zM280 515h1v1h-1zM284 515h1v1h-1zM288 515h2v1h-2zM292 515h1v1h-1zM294 515h1v1h-1zM297 515h1v1h-1zM299 515h3v1h-3zM306 515h2v1h-2zM313 515h2v1h-2zM316 515h2v1h-2zM220 516h1v1h-1zM222 516h2v1h-2zM225 516h1v1h-1zM227 516h1v1h-1zM242 516h2v1h-2zM248 516h1v1h-1zM250 516h6v1h-6zM257 516h2v1h-2zM260 516h1v1h-1zM268 516h1v1h-1zM271 516h2v1h-2zM281 516h1v1h-1zM284 516h1v1h-1zM287 516h1v1h-1zM292 516h1v1h-1zM294 516h1v1h-1zM298 516h1v1h-1zM301 516h2v1h-2zM305 516h1v1h-1zM314 516h3v1h-3zM318 516h2v1h-2zM321 516h1v1h-1zM221 517h1v1h-1zM224 517h2v1h-2zM227 517h2v1h-2zM247 517h1v1h-1zM250 517h1v1h-1zM254 517h1v1h-1zM257 517h1v1h-1zM261 517h1v1h-1zM265 517h1v1h-1zM270 517h1v1h-1zM283 517h2v1h-2zM292 517h1v1h-1zM297 517h2v1h-2zM301 517h1v1h-1zM317 517h1v1h-1zM320 517h1v1h-1zM221 518h1v1h-1zM223 518h2v1h-2zM227 518h2v1h-2zM251 518h1v1h-1zM253 518h2v1h-2zM256 518h1v1h-1zM259 518h2v1h-2zM283 518h2v1h-2zM287 518h2v1h-2zM299 518h3v1h-3zM305 518h2v1h-2zM317 518h1v1h-1zM319 518h1v1h-1zM219 519h1v1h-1zM223 519h1v1h-1zM227 519h1v1h-1zM235 519h1v1h-1zM251 519h3v1h-3zM255 519h2v1h-2zM260 519h1v1h-1zM262 519h2v1h-2zM267 519h1v1h-1zM274 519h1v1h-1zM278 519h2v1h-2zM282 519h1v1h-1zM286 519h2v1h-2zM289 519h1v1h-1zM292 519h1v1h-1zM294 519h2v1h-2zM298 519h1v1h-1zM301 519h1v1h-1zM306 519h1v1h-1zM313 519h3v1h-3zM319 519h1v1h-1zM325 519h1v1h-1zM334 519h1v1h-1zM219 520h2v1h-2zM244 520h2v1h-2zM250 520h1v1h-1zM255 520h1v1h-1zM261 520h1v1h-1zM269 520h1v1h-1zM278 520h2v1h-2zM282 520h1v1h-1zM285 520h1v1h-1zM288 520h1v1h-1zM295 520h3v1h-3zM299 520h1v1h-1zM306 520h1v1h-1zM315 520h1v1h-1zM320 520h1v1h-1zM221 521h1v1h-1zM233 521h2v1h-2zM249 521h2v1h-2zM253 521h2v1h-2zM257 521h1v1h-1zM262 521h2v1h-2zM266 521h1v1h-1zM269 521h3v1h-3zM273 521h1v1h-1zM276 521h9v1h-9zM286 521h1v1h-1zM289 521h1v1h-1zM293 521h2v1h-2zM299 521h2v1h-2zM308 521h1v1h-1zM313 521h1v1h-1zM315 521h3v1h-3zM220 522h1v1h-1zM222 522h1v1h-1zM249 522h1v1h-1zM252 522h3v1h-3zM256 522h1v1h-1zM258 522h1v1h-1zM261 522h1v1h-1zM263 522h1v1h-1zM269 522h1v1h-1zM273 522h2v1h-2zM277 522h5v1h-5zM284 522h1v1h-1zM286 522h8v1h-8zM295 522h3v1h-3zM300 522h1v1h-1zM314 522h1v1h-1zM317 522h1v1h-1zM221 523h1v1h-1zM250 523h1v1h-1zM254 523h1v1h-1zM256 523h1v1h-1zM258 523h2v1h-2zM262 523h1v1h-1zM274 523h1v1h-1zM276 523h2v1h-2zM279 523h1v1h-1zM281 523h2v1h-2zM285 523h2v1h-2zM289 523h1v1h-1zM292 523h1v1h-1zM295 523h1v1h-1zM300 523h5v1h-5zM315 523h1v1h-1zM318 523h1v1h-1zM220 524h3v1h-3zM246 524h2v1h-2zM250 524h1v1h-1zM252 524h1v1h-1zM254 524h1v1h-1zM256 524h1v1h-1zM258 524h1v1h-1zM262 524h3v1h-3zM268 524h1v1h-1zM274 524h1v1h-1zM277 524h2v1h-2zM281 524h1v1h-1zM283 524h1v1h-1zM285 524h5v1h-5zM291 524h1v1h-1zM293 524h1v1h-1zM297 524h2v1h-2zM304 524h1v1h-1zM310 524h1v1h-1zM318 524h1v1h-1zM322 524h1v1h-1zM222 525h1v1h-1zM246 525h1v1h-1zM252 525h1v1h-1zM254 525h1v1h-1zM260 525h3v1h-3zM265 525h3v1h-3zM270 525h2v1h-2zM277 525h1v1h-1zM279 525h4v1h-4zM289 525h1v1h-1zM300 525h3v1h-3zM304 525h1v1h-1zM308 525h1v1h-1zM310 525h1v1h-1zM314 525h1v1h-1zM220 526h3v1h-3zM225 526h1v1h-1zM244 526h1v1h-1zM251 526h3v1h-3zM256 526h1v1h-1zM260 526h1v1h-1zM265 526h1v1h-1zM269 526h2v1h-2zM273 526h1v1h-1zM277 526h4v1h-4zM282 526h1v1h-1zM285 526h1v1h-1zM289 526h1v1h-1zM292 526h1v1h-1zM298 526h1v1h-1zM300 526h1v1h-1zM303 526h2v1h-2zM308 526h2v1h-2zM313 526h1v1h-1zM315 526h2v1h-2zM318 526h1v1h-1zM321 526h1v1h-1zM219 527h1v1h-1zM222 527h3v1h-3zM243 527h2v1h-2zM251 527h2v1h-2zM256 527h1v1h-1zM258 527h1v1h-1zM260 527h2v1h-2zM265 527h3v1h-3zM271 527h1v1h-1zM274 527h1v1h-1zM278 527h1v1h-1zM280 527h2v1h-2zM285 527h2v1h-2zM288 527h1v1h-1zM290 527h2v1h-2zM293 527h2v1h-2zM299 527h2v1h-2zM303 527h1v1h-1zM305 527h1v1h-1zM308 527h1v1h-1zM311 527h1v1h-1zM313 527h2v1h-2zM316 527h2v1h-2zM219 528h3v1h-3zM244 528h1v1h-1zM253 528h1v1h-1zM257 528h1v1h-1zM259 528h2v1h-2zM262 528h3v1h-3zM267 528h2v1h-2zM272 528h1v1h-1zM277 528h2v1h-2zM280 528h1v1h-1zM283 528h4v1h-4zM295 528h1v1h-1zM301 528h2v1h-2zM304 528h2v1h-2zM311 528h1v1h-1zM313 528h3v1h-3zM317 528h1v1h-1zM249 529h2v1h-2zM255 529h2v1h-2zM259 529h1v1h-1zM261 529h1v1h-1zM264 529h2v1h-2zM277 529h2v1h-2zM285 529h1v1h-1zM300 529h1v1h-1zM303 529h1v1h-1zM307 529h3v1h-3zM311 529h1v1h-1zM313 529h1v1h-1zM316 529h1v1h-1zM318 529h1v1h-1zM220 530h2v1h-2zM225 530h2v1h-2zM242 530h1v1h-1zM252 530h2v1h-2zM259 530h3v1h-3zM263 530h1v1h-1zM280 530h1v1h-1zM287 530h1v1h-1zM298 530h1v1h-1zM300 530h1v1h-1zM302 530h1v1h-1zM304 530h1v1h-1zM308 530h2v1h-2zM311 530h1v1h-1zM314 530h2v1h-2zM219 531h2v1h-2zM222 531h2v1h-2zM226 531h4v1h-4zM252 531h2v1h-2zM263 531h1v1h-1zM268 531h1v1h-1zM275 531h1v1h-1zM278 531h1v1h-1zM281 531h1v1h-1zM285 531h1v1h-1zM309 531h1v1h-1zM314 531h1v1h-1zM337 531h1v1h-1zM222 532h2v1h-2zM247 532h2v1h-2zM252 532h1v1h-1zM254 532h1v1h-1zM258 532h1v1h-1zM268 532h1v1h-1zM271 532h2v1h-2zM276 532h1v1h-1zM278 532h5v1h-5zM302 532h2v1h-2zM313 532h2v1h-2zM221 533h1v1h-1zM226 533h1v1h-1zM228 533h1v1h-1zM230 533h1v1h-1zM248 533h3v1h-3zM253 533h1v1h-1zM255 533h1v1h-1zM257 533h1v1h-1zM259 533h1v1h-1zM261 533h2v1h-2zM269 533h1v1h-1zM271 533h1v1h-1zM276 533h2v1h-2zM288 533h1v1h-1zM302 533h1v1h-1zM219 534h2v1h-2zM222 534h1v1h-1zM226 534h2v1h-2zM230 534h1v1h-1zM239 534h1v1h-1zM247 534h1v1h-1zM254 534h2v1h-2zM257 534h1v1h-1zM260 534h1v1h-1zM268 534h1v1h-1zM284 534h3v1h-3zM293 534h1v1h-1zM308 534h1v1h-1zM332 534h1v1h-1zM223 535h3v1h-3zM228 535h1v1h-1zM246 535h1v1h-1zM254 535h1v1h-1zM257 535h4v1h-4zM266 535h1v1h-1zM273 535h1v1h-1zM277 535h1v1h-1zM279 535h1v1h-1zM292 535h3v1h-3zM303 535h1v1h-1zM322 535h1v1h-1zM222 536h4v1h-4zM227 536h2v1h-2zM246 536h2v1h-2zM252 536h1v1h-1zM254 536h1v1h-1zM259 536h1v1h-1zM261 536h1v1h-1zM269 536h2v1h-2zM272 536h1v1h-1zM277 536h1v1h-1zM310 536h3v1h-3zM219 537h1v1h-1zM222 537h1v1h-1zM240 537h2v1h-2zM246 537h2v1h-2zM251 537h1v1h-1zM269 537h1v1h-1zM279 537h1v1h-1zM283 537h1v1h-1zM288 537h1v1h-1zM295 537h1v1h-1zM298 537h1v1h-1zM314 537h1v1h-1zM222 538h1v1h-1zM225 538h3v1h-3zM240 538h3v1h-3zM247 538h1v1h-1zM250 538h1v1h-1zM252 538h1v1h-1zM255 538h1v1h-1zM282 538h1v1h-1zM298 538h1v1h-1zM219 539h1v1h-1zM224 539h2v1h-2zM227 539h3v1h-3zM237 539h2v1h-2zM242 539h1v1h-1zM251 539h1v1h-1zM256 539h2v1h-2zM267 539h2v1h-2zM285 539h1v1h-1zM298 539h1v1h-1zM224 540h3v1h-3zM235 540h1v1h-1zM238 540h1v1h-1zM242 540h1v1h-1zM252 540h1v1h-1zM254 540h3v1h-3zM258 540h1v1h-1zM320 540h1v1h-1zM227 541h1v1h-1zM231 541h1v1h-1zM234 541h4v1h-4zM243 541h1v1h-1zM255 541h1v1h-1zM258 541h1v1h-1zM261 541h1v1h-1zM266 541h2v1h-2zM277 541h1v1h-1zM284 541h1v1h-1zM220 542h1v1h-1zM223 542h2v1h-2zM226 542h4v1h-4zM235 542h2v1h-2zM239 542h2v1h-2zM242 542h2v1h-2zM251 542h2v1h-2zM254 542h1v1h-1zM260 542h1v1h-1zM263 542h1v1h-1zM266 542h1v1h-1zM274 542h1v1h-1zM281 542h1v1h-1zM285 542h1v1h-1zM300 542h1v1h-1zM311 542h1v1h-1zM221 543h1v1h-1zM229 543h2v1h-2zM238 543h2v1h-2zM247 543h2v1h-2zM250 543h2v1h-2zM262 543h1v1h-1zM266 543h1v1h-1zM269 543h1v1h-1zM313 543h1v1h-1zM318 543h1v1h-1zM219 544h3v1h-3zM224 544h1v1h-1zM230 544h1v1h-1zM232 544h1v1h-1zM236 544h1v1h-1zM239 544h1v1h-1zM250 544h1v1h-1zM254 544h2v1h-2zM264 544h1v1h-1zM289 544h1v1h-1zM303 544h1v1h-1zM223 545h2v1h-2zM231 545h2v1h-2zM236 545h1v1h-1zM250 545h1v1h-1zM254 545h2v1h-2zM263 545h1v1h-1zM308 545h1v1h-1zM221 546h2v1h-2zM233 546h3v1h-3zM239 546h1v1h-1zM245 546h1v1h-1zM253 546h1v1h-1zM255 546h1v1h-1zM262 546h1v1h-1zM266 546h1v1h-1zM268 546h1v1h-1zM276 546h1v1h-1zM283 546h1v1h-1zM220 547h1v1h-1zM233 547h2v1h-2zM238 547h2v1h-2zM243 547h1v1h-1zM253 547h1v1h-1zM271 547h1v1h-1zM279 547h1v1h-1zM289 547h1v1h-1zM295 547h1v1h-1zM304 547h1v1h-1zM220 548h1v1h-1zM238 548h2v1h-2zM242 548h2v1h-2zM253 548h1v1h-1zM260 548h1v1h-1zM273 548h2v1h-2zM282 548h1v1h-1zM221 549h1v1h-1zM256 549h2v1h-2zM260 549h1v1h-1zM263 549h1v1h-1zM271 549h1v1h-1zM273 549h1v1h-1zM280 549h1v1h-1zM306 549h1v1h-1zM220 550h1v1h-1zM231 550h1v1h-1zM254 550h1v1h-1zM260 550h2v1h-2zM263 550h1v1h-1zM265 550h1v1h-1zM273 550h1v1h-1zM220 551h1v1h-1zM223 551h1v1h-1zM254 551h2v1h-2zM259 551h1v1h-1zM272 551h2v1h-2zM275 551h1v1h-1zM298 551h1v1h-1zM328 551h1v1h-1zM219 552h2v1h-2zM222 552h2v1h-2zM254 552h2v1h-2zM257 552h1v1h-1zM261 552h1v1h-1zM266 552h1v1h-1zM271 552h3v1h-3zM312 552h1v1h-1zM220 553h2v1h-2zM255 553h1v1h-1zM257 553h1v1h-1zM259 553h2v1h-2zM263 553h1v1h-1zM282 553h1v1h-1zM287 553h2v1h-2zM316 553h1v1h-1zM219 554h1v1h-1zM258 554h1v1h-1zM265 554h1v1h-1zM279 554h1v1h-1zM283 554h1v1h-1zM219 555h1v1h-1zM256 555h2v1h-2zM259 555h1v1h-1zM271 555h1v1h-1zM280 555h1v1h-1zM286 555h1v1h-1zM314 555h1v1h-1zM258 556h2v1h-2zM278 556h2v1h-2zM282 556h1v1h-1zM320 556h1v1h-1zM260 557h1v1h-1zM273 557h1v1h-1zM276 557h1v1h-1zM278 557h2v1h-2zM298 557h1v1h-1zM304 557h1v1h-1zM306 557h1v1h-1zM318 557h1v1h-1zM260 558h4v1h-4zM268 558h1v1h-1zM282 558h1v1h-1zM284 558h1v1h-1zM320 558h1v1h-1zM335 558h1v1h-1zM259 559h2v1h-2zM262 559h1v1h-1zM268 559h1v1h-1zM280 559h2v1h-2zM286 559h1v1h-1zM258 560h3v1h-3zM263 560h1v1h-1zM265 560h1v1h-1zM270 560h1v1h-1zM275 560h1v1h-1zM280 560h1v1h-1zM263 561h1v1h-1zM279 561h1v1h-1zM288 561h1v1h-1zM292 561h2v1h-2zM314 561h1v1h-1zM262 562h3v1h-3zM268 562h1v1h-1zM284 562h1v1h-1zM287 562h1v1h-1zM299 562h1v1h-1zM329 562h1v1h-1zM263 563h1v1h-1zM269 563h1v1h-1zM308 563h1v1h-1zM262 564h2v1h-2zM266 564h1v1h-1zM282 564h1v1h-1zM293 564h1v1h-1zM298 564h1v1h-1zM315 564h1v1h-1zM260 565h4v1h-4zM266 565h1v1h-1zM270 565h1v1h-1zM273 565h2v1h-2zM282 565h1v1h-1zM260 566h2v1h-2zM263 566h3v1h-3zM276 566h1v1h-1zM306 566h1v1h-1zM343 566h1v1h-1zM264 567h1v1h-1zM266 567h1v1h-1zM278 567h1v1h-1zM284 567h1v1h-1zM299 567h1v1h-1zM331 567h1v1h-1zM261 568h1v1h-1zM264 568h1v1h-1zM266 568h2v1h-2zM271 568h2v1h-2zM299 568h1v1h-1zM303 568h1v1h-1zM261 569h5v1h-5zM278 569h1v1h-1zM280 569h1v1h-1zM288 569h1v1h-1zM261 570h1v1h-1zM263 570h3v1h-3zM267 570h2v1h-2zM271 570h1v1h-1zM276 570h3v1h-3zM304 570h1v1h-1zM308 570h1v1h-1zM263 571h2v1h-2zM268 571h1v1h-1zM271 571h9v1h-9zM284 571h1v1h-1zM289 571h1v1h-1zM298 571h1v1h-1zM261 572h2v1h-2zM269 572h1v1h-1zM272 572h4v1h-4zM279 572h1v1h-1zM295 572h1v1h-1zM310 572h1v1h-1zM330 572h1v1h-1zM261 573h2v1h-2zM264 573h1v1h-1zM268 573h1v1h-1zM271 573h2v1h-2zM275 573h3v1h-3zM281 573h1v1h-1zM261 574h1v1h-1zM268 574h1v1h-1zM272 574h1v1h-1zM295 574h1v1h-1zM313 574h1v1h-1zM262 575h1v1h-1zM268 575h1v1h-1zM284 575h1v1h-1zM304 575h1v1h-1zM327 575h1v1h-1zM264 576h1v1h-1zM266 576h3v1h-3zM270 576h4v1h-4zM279 576h1v1h-1zM282 576h1v1h-1zM285 576h1v1h-1zM327 576h1v1h-1zM332 576h1v1h-1zM263 577h1v1h-1zM266 577h2v1h-2zM270 577h3v1h-3zM274 577h1v1h-1zM279 577h1v1h-1zM281 577h1v1h-1zM284 577h1v1h-1zM293 577h1v1h-1zM261 578h3v1h-3zM268 578h1v1h-1zM277 578h1v1h-1zM281 578h2v1h-2zM284 578h1v1h-1zM288 578h1v1h-1zM292 578h3v1h-3zM304 578h1v1h-1zM261 579h1v1h-1zM271 579h1v1h-1zM273 579h2v1h-2zM276 579h3v1h-3zM281 579h1v1h-1zM284 579h2v1h-2zM289 579h2v1h-2zM292 579h1v1h-1zM294 579h2v1h-2zM310 579h1v1h-1zM266 580h1v1h-1zM276 580h2v1h-2zM281 580h3v1h-3zM289 580h1v1h-1zM294 580h1v1h-1zM311 580h1v1h-1zM329 580h1v1h-1zM259 581h1v1h-1zM263 581h1v1h-1zM265 581h2v1h-2zM270 581h2v1h-2zM273 581h1v1h-1zM275 581h2v1h-2zM280 581h2v1h-2zM294 581h1v1h-1zM266 582h1v1h-1zM271 582h2v1h-2zM275 582h1v1h-1zM280 582h2v1h-2zM286 582h1v1h-1zM313 582h1v1h-1zM322 582h1v1h-1zM262 583h1v1h-1zM265 583h1v1h-1zM267 583h1v1h-1zM269 583h1v1h-1zM276 583h1v1h-1zM281 583h1v1h-1zM287 583h1v1h-1zM299 583h1v1h-1zM261 584h2v1h-2zM264 584h2v1h-2zM268 584h2v1h-2zM275 584h1v1h-1zM277 584h1v1h-1zM282 584h1v1h-1zM284 584h1v1h-1zM291 584h1v1h-1zM298 584h1v1h-1zM301 584h2v1h-2zM308 584h1v1h-1zM238 585h2v1h-2zM257 585h2v1h-2zM260 585h1v1h-1zM263 585h1v1h-1zM267 585h1v1h-1zM269 585h1v1h-1zM289 585h1v1h-1zM300 585h1v1h-1z" fill="#c4c4c4"/>
<rect x="219.2" y="460.5" width="126.19999999999999" height="125.10000000000002" fill="none" stroke="#6e6e6e" stroke-width="1.1"/>
<line x1="219.2" y1="460.5" x2="219.2" y2="585.6" stroke="#555" stroke-width="1.6" />
<line x1="219.2" y1="585.6" x2="345.4" y2="585.6" stroke="#555" stroke-width="1.6" />
<line x1="219.2" y1="585.6" x2="219.2" y2="589.2" stroke="#555" stroke-width="1.1" />
<line x1="228.69749636319858" y1="585.6" x2="228.69749636319858" y2="587.3000000000001" stroke="#666" stroke-width="0.9" />
<line x1="234.25317558640535" y1="585.6" x2="234.25317558640535" y2="587.3000000000001" stroke="#666" stroke-width="0.9" />
<line x1="238.1949927263972" y1="585.6" x2="238.1949927263972" y2="587.3000000000001" stroke="#666" stroke-width="0.9" />
<line x1="241.25250363680138" y1="585.6" x2="241.25250363680138" y2="587.3000000000001" stroke="#666" stroke-width="0.9" />
<line x1="243.75067194960394" y1="585.6" x2="243.75067194960394" y2="587.3000000000001" stroke="#666" stroke-width="0.9" />
<line x1="245.8628431624498" y1="585.6" x2="245.8628431624498" y2="587.3000000000001" stroke="#666" stroke-width="0.9" />
<line x1="247.6924890895958" y1="585.6" x2="247.6924890895958" y2="587.3000000000001" stroke="#666" stroke-width="0.9" />
<line x1="249.30635117281068" y1="585.6" x2="249.30635117281068" y2="587.3000000000001" stroke="#666" stroke-width="0.9" />
<line x1="250.75" y1="585.6" x2="250.75" y2="589.2" stroke="#555" stroke-width="1.1" />
<line x1="260.2474963631986" y1="585.6" x2="260.2474963631986" y2="587.3000000000001" stroke="#666" stroke-width="0.9" />
<line x1="265.80317558640536" y1="585.6" x2="265.80317558640536" y2="587.3000000000001" stroke="#666" stroke-width="0.9" />
<line x1="269.7449927263972" y1="585.6" x2="269.7449927263972" y2="587.3000000000001" stroke="#666" stroke-width="0.9" />
<line x1="272.80250363680136" y1="585.6" x2="272.80250363680136" y2="587.3000000000001" stroke="#666" stroke-width="0.9" />
<line x1="275.30067194960395" y1="585.6" x2="275.30067194960395" y2="587.3000000000001" stroke="#666" stroke-width="0.9" />
<line x1="277.4128431624498" y1="585.6" x2="277.4128431624498" y2="587.3000000000001" stroke="#666" stroke-width="0.9" />
<line x1="279.2424890895958" y1="585.6" x2="279.2424890895958" y2="587.3000000000001" stroke="#666" stroke-width="0.9" />
<line x1="280.85635117281066" y1="585.6" x2="280.85635117281066" y2="587.3000000000001" stroke="#666" stroke-width="0.9" />
<line x1="282.29999999999995" y1="585.6" x2="282.29999999999995" y2="589.2" stroke="#555" stroke-width="1.1" />
<line x1="291.7974963631986" y1="585.6" x2="291.7974963631986" y2="587.3000000000001" stroke="#666" stroke-width="0.9" />
<line x1="297.3531755864053" y1="585.6" x2="297.3531755864053" y2="587.3000000000001" stroke="#666" stroke-width="0.9" />
<line x1="301.2949927263972" y1="585.6" x2="301.2949927263972" y2="587.3000000000001" stroke="#666" stroke-width="0.9" />
<line x1="304.3525036368014" y1="585.6" x2="304.3525036368014" y2="587.3000000000001" stroke="#666" stroke-width="0.9" />
<line x1="306.85067194960396" y1="585.6" x2="306.85067194960396" y2="587.3000000000001" stroke="#666" stroke-width="0.9" />
<line x1="308.96284316244976" y1="585.6" x2="308.96284316244976" y2="587.3000000000001" stroke="#666" stroke-width="0.9" />
<line x1="310.7924890895958" y1="585.6" x2="310.7924890895958" y2="587.3000000000001" stroke="#666" stroke-width="0.9" />
<line x1="312.4063511728107" y1="585.6" x2="312.4063511728107" y2="587.3000000000001" stroke="#666" stroke-width="0.9" />
<line x1="313.84999999999997" y1="585.6" x2="313.84999999999997" y2="589.2" stroke="#555" stroke-width="1.1" />
<line x1="323.3474963631986" y1="585.6" x2="323.3474963631986" y2="587.3000000000001" stroke="#666" stroke-width="0.9" />
<line x1="328.9031755864053" y1="585.6" x2="328.9031755864053" y2="587.3000000000001" stroke="#666" stroke-width="0.9" />
<line x1="332.8449927263972" y1="585.6" x2="332.8449927263972" y2="587.3000000000001" stroke="#666" stroke-width="0.9" />
<line x1="335.9025036368014" y1="585.6" x2="335.9025036368014" y2="587.3000000000001" stroke="#666" stroke-width="0.9" />
<line x1="338.400671949604" y1="585.6" x2="338.400671949604" y2="587.3000000000001" stroke="#666" stroke-width="0.9" />
<line x1="340.51284316244977" y1="585.6" x2="340.51284316244977" y2="587.3000000000001" stroke="#666" stroke-width="0.9" />
<line x1="342.3424890895958" y1="585.6" x2="342.3424890895958" y2="587.3000000000001" stroke="#666" stroke-width="0.9" />
<line x1="343.9563511728107" y1="585.6" x2="343.9563511728107" y2="587.3000000000001" stroke="#666" stroke-width="0.9" />
<line x1="345.4" y1="585.6" x2="345.4" y2="589.2" stroke="#555" stroke-width="1.1" />
<text x="219.39999999999998" y="601.2" font-size="8.3" text-anchor="middle" fill="#000">10<tspan font-size="6.2" dy="-4.9">0</tspan></text>
<text x="250.95" y="601.2" font-size="8.3" text-anchor="middle" fill="#000">10<tspan font-size="6.2" dy="-4.9">1</tspan></text>
<text x="282.49999999999994" y="601.2" font-size="8.3" text-anchor="middle" fill="#000">10<tspan font-size="6.2" dy="-4.9">2</tspan></text>
<text x="314.04999999999995" y="601.2" font-size="8.3" text-anchor="middle" fill="#000">10<tspan font-size="6.2" dy="-4.9">3</tspan></text>
<text x="345.59999999999997" y="601.2" font-size="8.3" text-anchor="middle" fill="#000">10<tspan font-size="6.2" dy="-4.9">4</tspan></text>
<line x1="216.0" y1="585.6" x2="219.2" y2="585.6" stroke="#555" stroke-width="1.1" />
<line x1="217.5" y1="576.185286885609" x2="219.2" y2="576.185286885609" stroke="#666" stroke-width="0.9" />
<line x1="217.5" y1="570.6780327586425" x2="219.2" y2="570.6780327586425" stroke="#666" stroke-width="0.9" />
<line x1="217.5" y1="566.770573771218" x2="219.2" y2="566.770573771218" stroke="#666" stroke-width="0.9" />
<line x1="217.5" y1="563.7397131143911" x2="219.2" y2="563.7397131143911" stroke="#666" stroke-width="0.9" />
<line x1="217.5" y1="561.2633196442515" x2="219.2" y2="561.2633196442515" stroke="#666" stroke-width="0.9" />
<line x1="217.5" y1="559.1695587985541" x2="219.2" y2="559.1695587985541" stroke="#666" stroke-width="0.9" />
<line x1="217.5" y1="557.355860656827" x2="219.2" y2="557.355860656827" stroke="#666" stroke-width="0.9" />
<line x1="217.5" y1="555.7560655172852" x2="219.2" y2="555.7560655172852" stroke="#666" stroke-width="0.9" />
<line x1="216.0" y1="554.325" x2="219.2" y2="554.325" stroke="#555" stroke-width="1.1" />
<line x1="217.5" y1="544.910286885609" x2="219.2" y2="544.910286885609" stroke="#666" stroke-width="0.9" />
<line x1="217.5" y1="539.4030327586426" x2="219.2" y2="539.4030327586426" stroke="#666" stroke-width="0.9" />
<line x1="217.5" y1="535.495573771218" x2="219.2" y2="535.495573771218" stroke="#666" stroke-width="0.9" />
<line x1="217.5" y1="532.464713114391" x2="219.2" y2="532.464713114391" stroke="#666" stroke-width="0.9" />
<line x1="217.5" y1="529.9883196442515" x2="219.2" y2="529.9883196442515" stroke="#666" stroke-width="0.9" />
<line x1="217.5" y1="527.8945587985542" x2="219.2" y2="527.8945587985542" stroke="#666" stroke-width="0.9" />
<line x1="217.5" y1="526.080860656827" x2="219.2" y2="526.080860656827" stroke="#666" stroke-width="0.9" />
<line x1="217.5" y1="524.4810655172852" x2="219.2" y2="524.4810655172852" stroke="#666" stroke-width="0.9" />
<line x1="216.0" y1="523.05" x2="219.2" y2="523.05" stroke="#555" stroke-width="1.1" />
<line x1="217.5" y1="513.635286885609" x2="219.2" y2="513.635286885609" stroke="#666" stroke-width="0.9" />
<line x1="217.5" y1="508.1280327586426" x2="219.2" y2="508.1280327586426" stroke="#666" stroke-width="0.9" />
<line x1="217.5" y1="504.22057377121797" x2="219.2" y2="504.22057377121797" stroke="#666" stroke-width="0.9" />
<line x1="217.5" y1="501.189713114391" x2="219.2" y2="501.189713114391" stroke="#666" stroke-width="0.9" />
<line x1="217.5" y1="498.71331964425156" x2="219.2" y2="498.71331964425156" stroke="#666" stroke-width="0.9" />
<line x1="217.5" y1="496.6195587985541" x2="219.2" y2="496.6195587985541" stroke="#666" stroke-width="0.9" />
<line x1="217.5" y1="494.80586065682695" x2="219.2" y2="494.80586065682695" stroke="#666" stroke-width="0.9" />
<line x1="217.5" y1="493.20606551728514" x2="219.2" y2="493.20606551728514" stroke="#666" stroke-width="0.9" />
<line x1="216.0" y1="491.775" x2="219.2" y2="491.775" stroke="#555" stroke-width="1.1" />
<line x1="217.5" y1="482.36028688560896" x2="219.2" y2="482.36028688560896" stroke="#666" stroke-width="0.9" />
<line x1="217.5" y1="476.85303275864254" x2="219.2" y2="476.85303275864254" stroke="#666" stroke-width="0.9" />
<line x1="217.5" y1="472.945573771218" x2="219.2" y2="472.945573771218" stroke="#666" stroke-width="0.9" />
<line x1="217.5" y1="469.914713114391" x2="219.2" y2="469.914713114391" stroke="#666" stroke-width="0.9" />
<line x1="217.5" y1="467.4383196442515" x2="219.2" y2="467.4383196442515" stroke="#666" stroke-width="0.9" />
<line x1="217.5" y1="465.3445587985541" x2="219.2" y2="465.3445587985541" stroke="#666" stroke-width="0.9" />
<line x1="217.5" y1="463.530860656827" x2="219.2" y2="463.530860656827" stroke="#666" stroke-width="0.9" />
<line x1="217.5" y1="461.9310655172851" x2="219.2" y2="461.9310655172851" stroke="#666" stroke-width="0.9" />
<line x1="216.0" y1="460.5" x2="219.2" y2="460.5" stroke="#555" stroke-width="1.1" />
<text x="213.79999999999998" y="589.6" font-size="8.3" text-anchor="end" fill="#000">10<tspan font-size="6.2" dy="-4.9">0</tspan></text>
<text x="213.79999999999998" y="558.325" font-size="8.3" text-anchor="end" fill="#000">10<tspan font-size="6.2" dy="-4.9">1</tspan></text>
<text x="213.79999999999998" y="527.05" font-size="8.3" text-anchor="end" fill="#000">10<tspan font-size="6.2" dy="-4.9">2</tspan></text>
<text x="213.79999999999998" y="495.775" font-size="8.3" text-anchor="end" fill="#000">10<tspan font-size="6.2" dy="-4.9">3</tspan></text>
<text x="213.79999999999998" y="464.5" font-size="8.3" text-anchor="end" fill="#000">10<tspan font-size="6.2" dy="-4.9">4</tspan></text>
<rect x="282.4" y="488.4" width="36.8" height="39.2" fill="none" stroke="#5b5bd6" stroke-width="1.1"/>
<text x="300.0" y="484.0" font-size="9.0" font-weight="normal" font-style="normal" text-anchor="middle" fill="#000" >R2</text>
<text x="282.2" y="609.8" font-size="9.0" font-weight="normal" font-style="normal" text-anchor="middle" fill="#000" >CD115</text>
<text transform="translate(198.9,523) rotate(-90)" font-size="9" text-anchor="middle" fill="#000">CD11b</text>
<polyline points="384.2,540 384.6,560 385,574.5 386.7,572.8 389.3,574.5 392.6,564.4 396,560.2 398.5,544.2 400.2,546.7 402.7,542.5 405.2,525.7 407.8,519.8 410.3,507.2 412.3,508 413.7,515.6 415.3,503.8 416.7,516.4 417.9,510.5 419.5,513 420.4,522.3 422.1,529 424.6,545.9 428.8,550.9 430.5,556 432.2,552.6 437.2,562.7 439.7,559.3 440.0,560.2 441.3,561.5 442.4,560.7 443.4,563.0 444.4,561.3 445.4,566.1 446.7,567.7 448.4,570.3 450.1,571.1 451.8,572.1 453.1,569.4 454.3,565.4 455.5,567.7 456.8,569.6 458.2,568.1 459.4,571.1 460.5,570.4 461.9,568.6 463.2,567.4 464.4,569.4 465.6,568.1 466.9,568.7 468.6,566.9 470.3,565.4 472.0,564.4 473.7,562.7 474.5,561.0 475.3,559.7 476.2,556.3 477.9,552.9 480.4,546.7 482.1,542.8 482.9,539.5 484.1,538.3 484.8,537.1 485.4,530.7 487.1,508.8 488.8,488.7 490.5,473.5 491.5,469.0 492.3,466.6 493.0,468.4 493.8,466.4 494.7,468.8 495.4,475 496.4,488.7 498,522.3 499.7,559.3 501.4,576.2 503.9,583.7 507.3,585.4 509.5,585.8" fill="none" stroke="#111" stroke-width="1.15" stroke-linejoin="round"/>
<rect x="383.6" y="460.5" width="126.0" height="125.5" fill="none" stroke="#6e6e6e" stroke-width="1.1"/>
<line x1="383.6" y1="460.5" x2="383.6" y2="586.0" stroke="#555" stroke-width="1.6" />
<line x1="383.6" y1="586.0" x2="509.6" y2="586.0" stroke="#555" stroke-width="1.6" />
<line x1="380.20000000000005" y1="586.6" x2="383.6" y2="586.6" stroke="#555" stroke-width="1.1" />
<text x="377.6" y="589.7" font-size="8.6" font-weight="normal" font-style="normal" text-anchor="end" fill="#000" >0</text>
<line x1="381.90000000000003" y1="579.975" x2="383.6" y2="579.975" stroke="#666" stroke-width="0.9" />
<line x1="381.90000000000003" y1="573.35" x2="383.6" y2="573.35" stroke="#666" stroke-width="0.9" />
<line x1="381.90000000000003" y1="566.725" x2="383.6" y2="566.725" stroke="#666" stroke-width="0.9" />
<line x1="380.20000000000005" y1="560.1" x2="383.6" y2="560.1" stroke="#555" stroke-width="1.1" />
<text x="377.6" y="563.2" font-size="8.6" font-weight="normal" font-style="normal" text-anchor="end" fill="#000" >20</text>
<line x1="381.90000000000003" y1="553.475" x2="383.6" y2="553.475" stroke="#666" stroke-width="0.9" />
<line x1="381.90000000000003" y1="546.85" x2="383.6" y2="546.85" stroke="#666" stroke-width="0.9" />
<line x1="381.90000000000003" y1="540.225" x2="383.6" y2="540.225" stroke="#666" stroke-width="0.9" />
<line x1="380.20000000000005" y1="533.6" x2="383.6" y2="533.6" stroke="#555" stroke-width="1.1" />
<text x="377.6" y="536.7" font-size="8.6" font-weight="normal" font-style="normal" text-anchor="end" fill="#000" >40</text>
<line x1="381.90000000000003" y1="526.975" x2="383.6" y2="526.975" stroke="#666" stroke-width="0.9" />
<line x1="381.90000000000003" y1="520.35" x2="383.6" y2="520.35" stroke="#666" stroke-width="0.9" />
<line x1="381.90000000000003" y1="513.725" x2="383.6" y2="513.725" stroke="#666" stroke-width="0.9" />
<line x1="380.20000000000005" y1="507.1" x2="383.6" y2="507.1" stroke="#555" stroke-width="1.1" />
<text x="377.6" y="510.20000000000005" font-size="8.6" font-weight="normal" font-style="normal" text-anchor="end" fill="#000" >60</text>
<line x1="381.90000000000003" y1="500.475" x2="383.6" y2="500.475" stroke="#666" stroke-width="0.9" />
<line x1="381.90000000000003" y1="493.85" x2="383.6" y2="493.85" stroke="#666" stroke-width="0.9" />
<line x1="381.90000000000003" y1="487.225" x2="383.6" y2="487.225" stroke="#666" stroke-width="0.9" />
<line x1="380.20000000000005" y1="480.6" x2="383.6" y2="480.6" stroke="#555" stroke-width="1.1" />
<text x="377.6" y="483.70000000000005" font-size="8.6" font-weight="normal" font-style="normal" text-anchor="end" fill="#000" >80</text>
<line x1="381.90000000000003" y1="473.975" x2="383.6" y2="473.975" stroke="#666" stroke-width="0.9" />
<line x1="381.90000000000003" y1="467.35" x2="383.6" y2="467.35" stroke="#666" stroke-width="0.9" />
<line x1="383.6" y1="586.0" x2="383.6" y2="589.6" stroke="#555" stroke-width="1.1" />
<line x1="393.08244486341545" y1="586.0" x2="393.08244486341545" y2="587.7" stroke="#666" stroke-width="0.9" />
<line x1="398.6293195236694" y1="586.0" x2="398.6293195236694" y2="587.7" stroke="#666" stroke-width="0.9" />
<line x1="402.5648897268308" y1="586.0" x2="402.5648897268308" y2="587.7" stroke="#666" stroke-width="0.9" />
<line x1="405.6175551365846" y1="586.0" x2="405.6175551365846" y2="587.7" stroke="#666" stroke-width="0.9" />
<line x1="408.1117643870848" y1="586.0" x2="408.1117643870848" y2="587.7" stroke="#666" stroke-width="0.9" />
<line x1="410.2205882604491" y1="586.0" x2="410.2205882604491" y2="587.7" stroke="#666" stroke-width="0.9" />
<line x1="412.04733459024624" y1="586.0" x2="412.04733459024624" y2="587.7" stroke="#666" stroke-width="0.9" />
<line x1="413.65863904733874" y1="586.0" x2="413.65863904733874" y2="587.7" stroke="#666" stroke-width="0.9" />
<line x1="415.1" y1="586.0" x2="415.1" y2="589.6" stroke="#555" stroke-width="1.1" />
<line x1="424.58244486341545" y1="586.0" x2="424.58244486341545" y2="587.7" stroke="#666" stroke-width="0.9" />
<line x1="430.1293195236694" y1="586.0" x2="430.1293195236694" y2="587.7" stroke="#666" stroke-width="0.9" />
<line x1="434.06488972683087" y1="586.0" x2="434.06488972683087" y2="587.7" stroke="#666" stroke-width="0.9" />
<line x1="437.1175551365846" y1="586.0" x2="437.1175551365846" y2="587.7" stroke="#666" stroke-width="0.9" />
<line x1="439.6117643870848" y1="586.0" x2="439.6117643870848" y2="587.7" stroke="#666" stroke-width="0.9" />
<line x1="441.7205882604491" y1="586.0" x2="441.7205882604491" y2="587.7" stroke="#666" stroke-width="0.9" />
<line x1="443.54733459024624" y1="586.0" x2="443.54733459024624" y2="587.7" stroke="#666" stroke-width="0.9" />
<line x1="445.15863904733874" y1="586.0" x2="445.15863904733874" y2="587.7" stroke="#666" stroke-width="0.9" />
<line x1="446.6" y1="586.0" x2="446.6" y2="589.6" stroke="#555" stroke-width="1.1" />
<line x1="456.08244486341545" y1="586.0" x2="456.08244486341545" y2="587.7" stroke="#666" stroke-width="0.9" />
<line x1="461.6293195236694" y1="586.0" x2="461.6293195236694" y2="587.7" stroke="#666" stroke-width="0.9" />
<line x1="465.56488972683087" y1="586.0" x2="465.56488972683087" y2="587.7" stroke="#666" stroke-width="0.9" />
<line x1="468.6175551365846" y1="586.0" x2="468.6175551365846" y2="587.7" stroke="#666" stroke-width="0.9" />
<line x1="471.1117643870848" y1="586.0" x2="471.1117643870848" y2="587.7" stroke="#666" stroke-width="0.9" />
<line x1="473.2205882604491" y1="586.0" x2="473.2205882604491" y2="587.7" stroke="#666" stroke-width="0.9" />
<line x1="475.04733459024624" y1="586.0" x2="475.04733459024624" y2="587.7" stroke="#666" stroke-width="0.9" />
<line x1="476.65863904733874" y1="586.0" x2="476.65863904733874" y2="587.7" stroke="#666" stroke-width="0.9" />
<line x1="478.1" y1="586.0" x2="478.1" y2="589.6" stroke="#555" stroke-width="1.1" />
<line x1="487.58244486341545" y1="586.0" x2="487.58244486341545" y2="587.7" stroke="#666" stroke-width="0.9" />
<line x1="493.1293195236694" y1="586.0" x2="493.1293195236694" y2="587.7" stroke="#666" stroke-width="0.9" />
<line x1="497.06488972683087" y1="586.0" x2="497.06488972683087" y2="587.7" stroke="#666" stroke-width="0.9" />
<line x1="500.1175551365846" y1="586.0" x2="500.1175551365846" y2="587.7" stroke="#666" stroke-width="0.9" />
<line x1="502.6117643870848" y1="586.0" x2="502.6117643870848" y2="587.7" stroke="#666" stroke-width="0.9" />
<line x1="504.7205882604491" y1="586.0" x2="504.7205882604491" y2="587.7" stroke="#666" stroke-width="0.9" />
<line x1="506.54733459024624" y1="586.0" x2="506.54733459024624" y2="587.7" stroke="#666" stroke-width="0.9" />
<line x1="508.15863904733874" y1="586.0" x2="508.15863904733874" y2="587.7" stroke="#666" stroke-width="0.9" />
<line x1="509.6" y1="586.0" x2="509.6" y2="589.6" stroke="#555" stroke-width="1.1" />
<text x="383.8" y="601.2" font-size="8.3" text-anchor="middle" fill="#000">10<tspan font-size="6.2" dy="-4.9">0</tspan></text>
<text x="415.3" y="601.2" font-size="8.3" text-anchor="middle" fill="#000">10<tspan font-size="6.2" dy="-4.9">1</tspan></text>
<text x="446.8" y="601.2" font-size="8.3" text-anchor="middle" fill="#000">10<tspan font-size="6.2" dy="-4.9">2</tspan></text>
<text x="478.3" y="601.2" font-size="8.3" text-anchor="middle" fill="#000">10<tspan font-size="6.2" dy="-4.9">3</tspan></text>
<text x="509.8" y="601.2" font-size="8.3" text-anchor="middle" fill="#000">10<tspan font-size="6.2" dy="-4.9">4</tspan></text>
<line x1="390.6" y1="522.9" x2="433.8" y2="522.9" stroke="#1a1a1a" stroke-width="1.5" />
<line x1="390.6" y1="520.4" x2="390.6" y2="525.4" stroke="#1a1a1a" stroke-width="1.1" />
<line x1="433.8" y1="520.4" x2="433.8" y2="525.4" stroke="#1a1a1a" stroke-width="1.1" />
<line x1="464.1" y1="522.9" x2="505.6" y2="522.9" stroke="#1a1a1a" stroke-width="1.5" />
<line x1="464.1" y1="520.4" x2="464.1" y2="525.4" stroke="#1a1a1a" stroke-width="1.1" />
<line x1="505.6" y1="520.4" x2="505.6" y2="525.4" stroke="#1a1a1a" stroke-width="1.1" />
<text x="412.6" y="500.2" font-size="9.0" font-weight="normal" font-style="normal" text-anchor="middle" fill="#000" >R3</text>
<text x="480.0" y="500.2" font-size="9.0" font-weight="normal" font-style="normal" text-anchor="middle" fill="#000" >R4</text>
<text x="446.1" y="609.5" font-size="9.0" font-weight="normal" font-style="normal" text-anchor="middle" fill="#000" >Ly6C</text>
<text transform="translate(367.6,523) rotate(-90)" font-size="9" text-anchor="middle" fill="#000">Cells</text>
<line x1="54.3" y1="655.9" x2="54.3" y2="820.1" stroke="#000" stroke-width="1.8" />
<line x1="48.8" y1="819.3" x2="54.3" y2="819.3" stroke="#000" stroke-width="1.6" />
<text x="47.2" y="823.3" font-size="10.6" font-weight="bold" font-style="normal" text-anchor="end" fill="#000" >0</text>
<line x1="48.8" y1="792.2299999999999" x2="54.3" y2="792.2299999999999" stroke="#000" stroke-width="1.6" />
<text x="47.2" y="796.2299999999999" font-size="10.6" font-weight="bold" font-style="normal" text-anchor="end" fill="#000" >10</text>
<line x1="48.8" y1="765.16" x2="54.3" y2="765.16" stroke="#000" stroke-width="1.6" />
<text x="47.2" y="769.16" font-size="10.6" font-weight="bold" font-style="normal" text-anchor="end" fill="#000" >20</text>
<line x1="48.8" y1="738.0899999999999" x2="54.3" y2="738.0899999999999" stroke="#000" stroke-width="1.6" />
<text x="47.2" y="742.0899999999999" font-size="10.6" font-weight="bold" font-style="normal" text-anchor="end" fill="#000" >30</text>
<line x1="48.8" y1="711.02" x2="54.3" y2="711.02" stroke="#000" stroke-width="1.6" />
<text x="47.2" y="715.02" font-size="10.6" font-weight="bold" font-style="normal" text-anchor="end" fill="#000" >40</text>
<line x1="48.8" y1="683.9499999999999" x2="54.3" y2="683.9499999999999" stroke="#000" stroke-width="1.6" />
<text x="47.2" y="687.9499999999999" font-size="10.6" font-weight="bold" font-style="normal" text-anchor="end" fill="#000" >50</text>
<line x1="48.8" y1="656.8799999999999" x2="54.3" y2="656.8799999999999" stroke="#000" stroke-width="1.6" />
<text x="47.2" y="660.8799999999999" font-size="10.6" font-weight="bold" font-style="normal" text-anchor="end" fill="#000" >60</text>
<line x1="53.5" y1="819.4" x2="298.5" y2="819.4" stroke="#000" stroke-width="1.8" />
<line x1="86.0" y1="686.3" x2="86.0" y2="690.5" stroke="#000" stroke-width="1.6" />
<line x1="77.9" y1="686.3" x2="95.5" y2="686.3" stroke="#000" stroke-width="1.8" />
<rect x="64.3" y="690.4" width="41.400000000000006" height="129.0" fill="#000"/>
<line x1="145.9" y1="753.6" x2="145.9" y2="756.2" stroke="#000" stroke-width="1.6" />
<line x1="135.3" y1="753.6" x2="156.4" y2="753.6" stroke="#000" stroke-width="1.8" />
<rect x="126.30000000000001" y="756.8" width="39.60000000000001" height="62.6" fill="#fff" stroke="#000" stroke-width="1.8"/>
<line x1="207.0" y1="680.7" x2="207.0" y2="687.4" stroke="#000" stroke-width="1.6" />
<line x1="196.3" y1="680.7" x2="217.9" y2="680.7" stroke="#000" stroke-width="1.8" />
<rect x="187.20000000000002" y="687.9" width="39.499999999999986" height="131.49999999999997" fill="#a6a6aa" stroke="#000" stroke-width="1.8"/>
<line x1="268.1" y1="763.7" x2="268.1" y2="766.0" stroke="#000" stroke-width="1.6" />
<line x1="257.2" y1="763.7" x2="279.0" y2="763.7" stroke="#000" stroke-width="1.8" />
<rect x="248.4" y="766.5" width="39.59999999999998" height="52.899999999999956" fill="#858585" stroke="#000" stroke-width="1.8"/>
<path d="M84.9 679.8 V645.5 H271.2 V679.8" fill="none" stroke="#333" stroke-width="1.2"/>
<path d="M84.9 667.6 H142.1 V679.8" fill="none" stroke="#333" stroke-width="1.2"/>
<circle cx="111.2" cy="663.9" r="1.55" fill="#000"/>
<circle cx="115.8" cy="663.9" r="1.55" fill="#000"/>
<circle cx="120.3" cy="663.9" r="1.55" fill="#000"/>
<circle cx="175.4" cy="638.4" r="1.55" fill="#000"/>
<circle cx="180.3" cy="638.4" r="1.55" fill="#000"/>
<circle cx="185.2" cy="638.4" r="1.55" fill="#000"/>
<text transform="translate(28.8,741) rotate(-90)" font-size="10.6" text-anchor="middle" fill="#111">% of Ly6C<tspan font-size="6.8" dy="-3.8">low</tspan><tspan dy="3.8"> cells of total monocytes</tspan></text>
<rect x="315.8" y="663.6999999999999" width="23.6" height="9.000000000000023" fill="#000" stroke="#000" stroke-width="1.6"/>
<rect x="315.8" y="683.5" width="23.6" height="9.9" fill="#fff" stroke="#000" stroke-width="1.6"/>
<rect x="315.8" y="703.0999999999999" width="23.6" height="9.9" fill="#a6a6aa" stroke="#000" stroke-width="1.6"/>
<rect x="315.8" y="722.6999999999999" width="23.6" height="10.000000000000023" fill="#858585" stroke="#000" stroke-width="1.6"/>
<text x="344.0" y="675.2" font-size="11.2" fill="#111" word-spacing="1.2">WT</text>
<text x="344.0" y="694.8" font-size="11.2" fill="#111" word-spacing="1.2">CX<tspan font-size="7.6" dy="2.4">3</tspan><tspan dy="-2.4">CL1</tspan><tspan font-size="7.6" dy="-4.2">-/-</tspan></text>
<text x="344.0" y="714.6" font-size="11.2" fill="#111">CX<tspan font-size="7.6" dy="2.4">3</tspan><tspan dy="-2.4">CL1</tspan><tspan font-size="7.6" dy="-4.2">395AA</tspan></text>
<text x="410.6" y="714.6" font-size="11.2" fill="#111">: CX<tspan font-size="7.6" dy="2.4">3</tspan><tspan dy="-2.4">CL1</tspan><tspan font-size="7.6" dy="-4.2">-/-</tspan></text>
<text x="344.0" y="734.0" font-size="11.2" fill="#111">CX<tspan font-size="7.6" dy="2.4">3</tspan><tspan dy="-2.4">CL1</tspan><tspan font-size="7.6" dy="-4.2">105Δ</tspan></text>
<text x="405.6" y="734.0" font-size="11.2" fill="#111">: CX<tspan font-size="7.6" dy="2.4">3</tspan><tspan dy="-2.4">CL1</tspan><tspan font-size="7.6" dy="-4.2">-/-</tspan></text>
</svg></body></html>
